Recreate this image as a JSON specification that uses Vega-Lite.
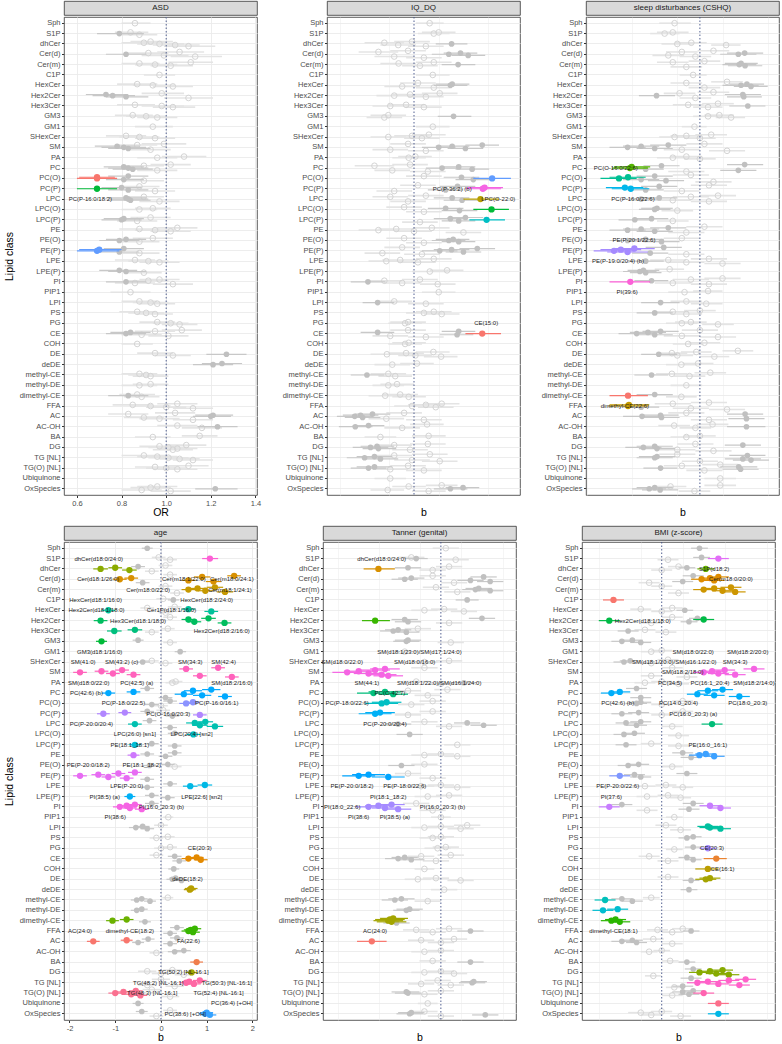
{
"$schema": "https://vega.github.io/schema/vega-lite/v6.json",
"background": "white",
"padding": {"left": 3, "top": 0, "right": 1, "bottom": 0},
"config": {
 "font": "Liberation Sans",
 "locale": {"number": {"decimal": ".", "thousands": ",", "grouping": [3], "currency": ["$", ""], "minus": "-"}},
 "view": {"stroke": "#333333", "strokeWidth": 0.8},
 "axis": {"labelFontSize": 7.5, "labelColor": "#4d4d4d", "titleFontSize": 10.5, "titleFontWeight": "normal", "titleColor": "#000000", "tickColor": "#333333", "tickSize": 2.5, "domain": false, "gridColor": "#ebebeb", "gridWidth": 0.9, "labelPadding": 1.5, "titlePadding": 1},
 "axisY": {"titlePadding": 5, "grid": true, "bandPosition": 0.5, "labelOverlap": false}
},
"datasets": {
"d": [
{"p":"A","c":"Sph","k":"o","b":[0.86],"l":[0.8],"h":[0.93]},
{"p":"A","c":"S1P","k":"g","b":[0.79],"l":[0.69],"h":[0.9]},
{"p":"A","c":"S1P","k":"o","b":[0.84,0.88],"l":[0.77,0.8],"h":[0.92,0.96]},
{"p":"A","c":"dhCer","k":"o","b":[0.97,0.9,1.04,0.93,1.1],"l":[0.87,0.8,0.94,0.84,0.99],"h":[1.08,1,1.15,1.03,1.22]},
{"p":"A","c":"Cer(d)","k":"g","b":[0.82],"l":[0.73],"h":[0.91]},
{"p":"A","c":"Cer(d)","k":"o","b":[0.92,0.99,1.06,1.13],"l":[0.83,0.89,0.96,1.02],"h":[1.01,1.1,1.17,1.25]},
{"p":"A","c":"Cer(m)","k":"o","b":[0.95,0.88,1.02,1.11],"l":[0.86,0.8,0.93,1.01],"h":[1.05,0.97,1.12,1.21]},
{"p":"A","c":"C1P","k":"o","b":[0.97],"l":[0.9],"h":[1.04]},
{"p":"A","c":"HexCer","k":"o","b":[0.94,0.87,1.03],"l":[0.85,0.78,0.94],"h":[1.04,0.96,1.12]},
{"p":"A","c":"Hex2Cer","k":"g","b":[0.76,0.73,0.82],"l":[0.67,0.64,0.73],"h":[0.86,0.83,0.92]},
{"p":"A","c":"Hex2Cer","k":"o","b":[0.98,1.1],"l":[0.89,0.99],"h":[1.08,1.21]},
{"p":"A","c":"Hex3Cer","k":"o","b":[0.98,0.86,1.03],"l":[0.89,0.78,0.94],"h":[1.08,0.95,1.13]},
{"p":"A","c":"GM3","k":"o","b":[0.91,0.85,0.96],"l":[0.82,0.77,0.87],"h":[1,0.94,1.05]},
{"p":"A","c":"GM1","k":"o","b":[0.94],"l":[0.86],"h":[1.03]},
{"p":"A","c":"SHexCer","k":"o","b":[0.88,0.82,0.95],"l":[0.79,0.73,0.86],"h":[0.97,0.91,1.04]},
{"p":"A","c":"SM","k":"g","b":[0.81,0.78,0.83],"l":[0.71,0.68,0.74],"h":[0.91,0.88,0.93]},
{"p":"A","c":"SM","k":"o","b":[0.87,0.93,0.99],"l":[0.78,0.84,0.89],"h":[0.96,1.02,1.09]},
{"p":"A","c":"PA","k":"o","b":[0.96,1.08],"l":[0.87,0.98],"h":[1.05,1.18]},
{"p":"A","c":"PC","k":"g","b":[0.83,0.81,0.85],"l":[0.74,0.72,0.76],"h":[0.92,0.9,0.94]},
{"p":"A","c":"PC","k":"o","b":[0.9,0.96,1.02],"l":[0.81,0.87,0.93],"h":[0.99,1.05,1.11]},
{"p":"A","c":"PC(O)","k":"s","b":[0.69,0.69],"l":[0.6,0.61],"h":[0.78,0.77]},
{"p":"A","c":"PC(O)","k":"g","b":[0.81,0.83],"l":[0.73,0.74],"h":[0.9,0.92]},
{"p":"A","c":"PC(O)","k":"o","b":[0.9],"l":[0.81],"h":[0.99]},
{"p":"A","c":"PC(P)","k":"s","b":[0.69],"l":[0.6],"h":[0.78]},
{"p":"A","c":"PC(P)","k":"g","b":[0.8,0.83],"l":[0.71,0.74],"h":[0.89,0.92]},
{"p":"A","c":"PC(P)","k":"o","b":[0.88,0.95],"l":[0.79,0.86],"h":[0.97,1.04]},
{"p":"A","c":"LPC","k":"g","b":[0.83,0.82,0.84],"l":[0.74,0.73,0.75],"h":[0.92,0.91,0.93]},
{"p":"A","c":"LPC","k":"o","b":[0.9,0.97],"l":[0.81,0.88],"h":[0.99,1.06]},
{"p":"A","c":"LPC(O)","k":"o","b":[0.88,0.94],"l":[0.8,0.86],"h":[0.96,1.02]},
{"p":"A","c":"LPC(P)","k":"g","b":[0.8,0.81],"l":[0.71,0.72],"h":[0.89,0.9]},
{"p":"A","c":"LPC(P)","k":"o","b":[0.87,0.93],"l":[0.78,0.84],"h":[0.96,1.02]},
{"p":"A","c":"PE","k":"o","b":[0.95,0.88,1.02,1.05],"l":[0.86,0.79,0.93,0.96],"h":[1.04,0.97,1.11,1.14]},
{"p":"A","c":"PE(O)","k":"g","b":[0.79,0.82],"l":[0.7,0.73],"h":[0.88,0.91]},
{"p":"A","c":"PE(O)","k":"o","b":[0.88,0.94],"l":[0.79,0.85],"h":[0.97,1.03]},
{"p":"A","c":"PE(P)","k":"s","b":[0.69,0.7],"l":[0.6,0.61],"h":[0.79,0.8]},
{"p":"A","c":"PE(P)","k":"g","b":[0.79,0.81],"l":[0.7,0.72],"h":[0.88,0.9]},
{"p":"A","c":"PE(P)","k":"o","b":[0.88],"l":[0.79],"h":[0.97]},
{"p":"A","c":"LPE","k":"o","b":[0.92,0.86,0.97],"l":[0.83,0.77,0.88],"h":[1.01,0.95,1.06]},
{"p":"A","c":"LPE(P)","k":"g","b":[0.82,0.79],"l":[0.74,0.7],"h":[0.91,0.87]},
{"p":"A","c":"LPE(P)","k":"o","b":[0.9],"l":[0.82],"h":[0.98]},
{"p":"A","c":"PI","k":"g","b":[0.82],"l":[0.73],"h":[0.91]},
{"p":"A","c":"PI","k":"o","b":[0.92,0.86,0.97,1.03],"l":[0.83,0.77,0.88,0.94],"h":[1.01,0.95,1.06,1.12]},
{"p":"A","c":"PIP1","k":"o","b":[0.84],"l":[0.75],"h":[0.93]},
{"p":"A","c":"LPI","k":"o","b":[0.93,0.88,0.96],"l":[0.85,0.8,0.88],"h":[1.01,0.96,1.04]},
{"p":"A","c":"PS","k":"o","b":[0.91,0.87,0.95],"l":[0.83,0.79,0.87],"h":[0.99,0.95,1.03]},
{"p":"A","c":"PG","k":"o","b":[1.02,0.96,1.06],"l":[0.94,0.88,0.98],"h":[1.1,1.04,1.14]},
{"p":"A","c":"CE","k":"g","b":[0.82,0.84],"l":[0.73,0.75],"h":[0.91,0.93]},
{"p":"A","c":"CE","k":"o","b":[0.89,0.95,1.01,1.07],"l":[0.8,0.86,0.92,0.98],"h":[0.98,1.04,1.1,1.16]},
{"p":"A","c":"COH","k":"o","b":[0.87],"l":[0.8],"h":[0.94]},
{"p":"A","c":"DE","k":"g","b":[1.27],"l":[1.18],"h":[1.36]},
{"p":"A","c":"DE","k":"o","b":[0.95,1.03],"l":[0.87,0.95],"h":[1.03,1.11]},
{"p":"A","c":"deDE","k":"g","b":[1.21,1.25],"l":[1.12,1.16],"h":[1.3,1.34]},
{"p":"A","c":"methyl-CE","k":"o","b":[0.91,0.88,0.93],"l":[0.83,0.8,0.85],"h":[0.99,0.96,1.01]},
{"p":"A","c":"methyl-DE","k":"o","b":[0.88,0.93],"l":[0.8,0.85],"h":[0.96,1.01]},
{"p":"A","c":"dimethyl-CE","k":"g","b":[0.83],"l":[0.74],"h":[0.92]},
{"p":"A","c":"dimethyl-CE","k":"o","b":[0.87,0.89],"l":[0.79,0.81],"h":[0.95,0.97]},
{"p":"A","c":"FFA","k":"o","b":[0.93,0.85,1,1.05,1.12],"l":[0.84,0.76,0.91,0.96,1.03],"h":[1.02,0.94,1.09,1.14,1.21]},
{"p":"A","c":"AC","k":"g","b":[1.2,1.21],"l":[1.12,1.13],"h":[1.29,1.3]},
{"p":"A","c":"AC","k":"o","b":[0.9,0.83,0.97,1.04,1.12],"l":[0.81,0.74,0.88,0.95,1.03],"h":[0.99,0.92,1.06,1.13,1.21]},
{"p":"A","c":"AC-OH","k":"g","b":[1.23],"l":[1.14],"h":[1.32]},
{"p":"A","c":"AC-OH","k":"o","b":[1.05,1.16],"l":[0.96,1.07],"h":[1.14,1.25]},
{"p":"A","c":"BA","k":"o","b":[0.94,1.15],"l":[0.86,1.07],"h":[1.02,1.23]},
{"p":"A","c":"DG","k":"o","b":[1.01,0.97,1.05,1.09,1.03],"l":[0.92,0.88,0.96,1,0.94],"h":[1.1,1.06,1.14,1.18,1.12]},
{"p":"A","c":"TG [NL]","k":"o","b":[1.01,0.96,1.06,0.9,1.12],"l":[0.92,0.87,0.97,0.8,1.03],"h":[1.1,1.05,1.15,1,1.21]},
{"p":"A","c":"TG(O) [NL]","k":"o","b":[1,0.95,1.05,1.1],"l":[0.91,0.86,0.96,1.01],"h":[1.09,1.04,1.14,1.19]},
{"p":"A","c":"OxSpecies","k":"g","b":[1.22],"l":[1.13],"h":[1.32]},
{"p":"A","c":"OxSpecies","k":"o","b":[0.93,0.89,0.96,1.02],"l":[0.84,0.8,0.87,0.93],"h":[1.02,0.98,1.05,1.11]},

{"p":"Q","c":"Sph","k":"o","b":[0.79],"l":[0.1],"h":[1.5]},
{"p":"Q","c":"S1P","k":"o","b":[1,1.25],"l":[0.2,0.4],"h":[1.8,2.1]},
{"p":"Q","c":"dhCer","k":"g","b":[1.9],"l":[1.1],"h":[2.7]},
{"p":"Q","c":"dhCer","k":"o","b":[-1.5,-0.8,-0.1,0.6],"l":[-2.5,-1.7,-1,-0.3],"h":[-0.5,0.1,0.8,1.5]},
{"p":"Q","c":"Cer(d)","k":"g","b":[1.76,2.35,2.74],"l":[0.9,1.5,1.9],"h":[2.6,3.2,3.6]},
{"p":"Q","c":"Cer(d)","k":"o","b":[-1.8,-1,-0.3,0.5],"l":[-2.8,-2,-1.2,-0.4],"h":[-0.8,0,0.6,1.4]},
{"p":"Q","c":"Cer(m)","k":"g","b":[2.23],"l":[1.4],"h":[3.1]},
{"p":"Q","c":"Cer(m)","k":"o","b":[-0.78,0.3,1],"l":[-1.7,-0.6,0.1],"h":[0.1,1.2,1.9]},
{"p":"Q","c":"C1P","k":"o","b":[0.95],"l":[0.1],"h":[1.8]},
{"p":"Q","c":"HexCer","k":"g","b":[1.84,1.93],"l":[1,1.1],"h":[2.7,2.8]},
{"p":"Q","c":"HexCer","k":"o","b":[-0.6,0.2,1],"l":[-1.5,-0.7,0.1],"h":[0.3,1.1,1.9]},
{"p":"Q","c":"Hex2Cer","k":"o","b":[-1,-0.2,0.6,1.3],"l":[-1.9,-1.1,-0.3,0.4],"h":[-0.1,0.7,1.5,2.2]},
{"p":"Q","c":"Hex3Cer","k":"o","b":[-1.2,-0.4,0.5],"l":[-2.1,-1.3,-0.4],"h":[-0.3,0.5,1.4]},
{"p":"Q","c":"GM3","k":"g","b":[2],"l":[1.2],"h":[2.9]},
{"p":"Q","c":"GM3","k":"o","b":[-1.3,-1.5],"l":[-2.2,-2.4],"h":[-0.4,-0.6]},
{"p":"Q","c":"GM1","k":"o","b":[0.95],"l":[0.1],"h":[1.8]},
{"p":"Q","c":"SHexCer","k":"o","b":[-1.3,-0.1,0.4,0.75],"l":[-2.2,-1,-0.5,-0.1],"h":[-0.4,0.8,1.3,1.6]},
{"p":"Q","c":"SM","k":"g","b":[1.25,1.93,2.6,3.45],"l":[0.4,1.1,1.7,2.6],"h":[2.1,2.8,3.5,4.3]},
{"p":"Q","c":"SM","k":"o","b":[-1.2,-0.3,0.6],"l":[-2.1,-1.2,-0.3],"h":[-0.3,0.6,1.5]},
{"p":"Q","c":"PA","k":"o","b":[-0.27,0.07],"l":[-1.1,-0.8],"h":[0.6,0.9]},
{"p":"Q","c":"PC","k":"g","b":[1.42,2.26,2.94],"l":[0.6,1.4,2.1],"h":[2.3,3.1,3.8]},
{"p":"Q","c":"PC","k":"o","b":[-2,-1.1,-0.2,0.7],"l":[-3,-2,-1.1,-0.2],"h":[-1,-0.2,0.7,1.6]},
{"p":"Q","c":"PC(O)","k":"s","b":[3.95],"l":[3],"h":[4.9]},
{"p":"Q","c":"PC(O)","k":"g","b":[2.4,3],"l":[1.5,2.1],"h":[3.3,3.9]},
{"p":"Q","c":"PC(O)","k":"o","b":[0.5],"l":[-0.4],"h":[1.4]},
{"p":"Q","c":"PC(P)","k":"s","b":[3.48,3.57],"l":[2.6,2.7],"h":[4.4,4.5]},
{"p":"Q","c":"PC(P)","k":"g","b":[1.6,2.2],"l":[0.7,1.3],"h":[2.5,3.1]},
{"p":"Q","c":"PC(P)","k":"o","b":[-1,0.2],"l":[-1.9,-0.7],"h":[-0.1,1.1]},
{"p":"Q","c":"LPC","k":"s","b":[3.36],"l":[2.5],"h":[4.3]},
{"p":"Q","c":"LPC","k":"g","b":[1.93,2.43],"l":[1,1.5],"h":[2.8,3.3]},
{"p":"Q","c":"LPC","k":"o","b":[-1.2,-0.3,0.6],"l":[-2.1,-1.2,-0.3],"h":[-0.3,0.6,1.5]},
{"p":"Q","c":"LPC(O)","k":"s","b":[3.92],"l":[3],"h":[4.8]},
{"p":"Q","c":"LPC(O)","k":"g","b":[1.6,2.3],"l":[0.7,1.4],"h":[2.5,3.2]},
{"p":"Q","c":"LPC(O)","k":"o","b":[-0.5,0.5],"l":[-1.4,-0.4],"h":[0.4,1.4]},
{"p":"Q","c":"LPC(P)","k":"s","b":[3.67],"l":[2.8],"h":[4.6]},
{"p":"Q","c":"LPC(P)","k":"g","b":[1.84,2.26,2.6],"l":[1,1.4,1.7],"h":[2.7,3.1,3.5]},
{"p":"Q","c":"LPC(P)","k":"o","b":[0.3],"l":[-0.6],"h":[1.2]},
{"p":"Q","c":"PE","k":"o","b":[-1.8,-0.9,0,0.9,2.5],"l":[-2.8,-1.8,-0.9,0,1.6],"h":[-0.8,0,0.9,1.8,3.4]},
{"p":"Q","c":"PE(O)","k":"g","b":[1.76,1.98,2.26],"l":[0.9,1.1,1.4],"h":[2.6,2.8,3.1]},
{"p":"Q","c":"PE(O)","k":"o","b":[-0.5,0.5],"l":[-1.4,-0.4],"h":[0.4,1.4]},
{"p":"Q","c":"PE(P)","k":"g","b":[1.3,1.9,2.5,3.2],"l":[0.4,1,1.6,2.3],"h":[2.2,2.8,3.4,4.1]},
{"p":"Q","c":"PE(P)","k":"o","b":[-1.6,-0.6,0.4],"l":[-2.5,-1.5,-0.5],"h":[-0.7,0.3,1.3]},
{"p":"Q","c":"LPE","k":"o","b":[-1.4,-0.7,0.2,1],"l":[-2.3,-1.6,-0.7,0.1],"h":[-0.5,0.2,1.1,1.9]},
{"p":"Q","c":"LPE(P)","k":"o","b":[0.8,1.67],"l":[-0.1,0.8],"h":[1.7,2.5]},
{"p":"Q","c":"PI","k":"g","b":[-2.33],"l":[-3.2],"h":[-1.45]},
{"p":"Q","c":"PI","k":"o","b":[-1.5,-0.6,0.3,1.2],"l":[-2.4,-1.5,-0.6,0.3],"h":[-0.6,0.3,1.2,2.1]},
{"p":"Q","c":"PIP1","k":"o","b":[1.25],"l":[0.4],"h":[2.1]},
{"p":"Q","c":"LPI","k":"g","b":[-1.84],"l":[-2.6],"h":[-1]},
{"p":"Q","c":"LPI","k":"o","b":[-1,0.6],"l":[-1.9,-0.3],"h":[-0.1,1.5]},
{"p":"Q","c":"PS","k":"o","b":[0.5,1,1.4],"l":[-0.4,0.1,0.5],"h":[1.4,1.9,2.3]},
{"p":"Q","c":"PG","k":"o","b":[-0.45,-0.3],"l":[-1.3,-1.2],"h":[0.4,0.6]},
{"p":"Q","c":"CE","k":"s","b":[3.45],"l":[2.6],"h":[4.4]},
{"p":"Q","c":"CE","k":"g","b":[-1.84,2.18,2.26],"l":[-2.7,1.3,1.4],"h":[-1,3,3.1]},
{"p":"Q","c":"CE","k":"o","b":[-1.2,-0.3,0.6],"l":[-2.1,-1.2,-0.3],"h":[-0.3,0.6,1.5]},
{"p":"Q","c":"COH","k":"o","b":[-0.45,-0.27],"l":[-1.3,-1.1],"h":[0.4,0.6]},
{"p":"Q","c":"DE","k":"o","b":[-1.37,-0.4,0.07,0.98,1.37],"l":[-2.2,-1.3,-0.8,0.1,0.5],"h":[-0.5,0.5,0.9,1.8,2.2]},
{"p":"Q","c":"deDE","k":"o","b":[-1.1,0.15],"l":[-2,-0.7],"h":[-0.2,1]},
{"p":"Q","c":"methyl-CE","k":"g","b":[-2.38],"l":[-3.2],"h":[-1.5]},
{"p":"Q","c":"methyl-CE","k":"o","b":[-1.3,-0.95],"l":[-2.2,-1.8],"h":[-0.4,-0.1]},
{"p":"Q","c":"methyl-DE","k":"o","b":[-1.3,-0.86],"l":[-2.1,-1.7],"h":[-0.5,0]},
{"p":"Q","c":"dimethyl-CE","k":"o","b":[-1.46,-0.7,-0.27],"l":[-2.3,-1.6,-1.1],"h":[-0.6,0.2,0.6]},
{"p":"Q","c":"FFA","k":"o","b":[-0.1,0.6,1.1,1.4],"l":[-1,-0.3,0.2,0.5],"h":[0.8,1.5,2,2.3]},
{"p":"Q","c":"AC","k":"g","b":[-3,-2.7,-2.6,-2.1],"l":[-3.9,-3.6,-3.5,-3],"h":[-2.1,-1.8,-1.7,-1.2]},
{"p":"Q","c":"AC","k":"o","b":[-1.4,-0.5,0.5],"l":[-2.3,-1.4,-0.4],"h":[-0.5,0.4,1.4]},
{"p":"Q","c":"AC-OH","k":"g","b":[-2.97,-2.3],"l":[-3.8,-3.1],"h":[-2.1,-1.5]},
{"p":"Q","c":"AC-OH","k":"o","b":[-0.6,0.66],"l":[-1.5,-0.2],"h":[0.3,1.5]},
{"p":"Q","c":"BA","k":"o","b":[-1.7,0.74],"l":[-2.5,-0.1],"h":[-0.9,1.6]},
{"p":"Q","c":"DG","k":"g","b":[-2.2,-1.87,-1.8],"l":[-3.1,-2.7,-2.6],"h":[-1.3,-1,-0.9]},
{"p":"Q","c":"DG","k":"o","b":[-1,-0.2,0.7],"l":[-1.9,-1.1,-0.2],"h":[-0.1,0.7,1.6]},
{"p":"Q","c":"TG [NL]","k":"g","b":[-2.5,-2,-1.7],"l":[-3.4,-2.9,-2.6],"h":[-1.6,-1.1,-0.8]},
{"p":"Q","c":"TG [NL]","k":"o","b":[-1,-0.1,0.8,1.3],"l":[-1.9,-1,-0.1,0.4],"h":[-0.1,0.8,1.7,2.2]},
{"p":"Q","c":"TG(O) [NL]","k":"g","b":[-2.3,-2],"l":[-3.2,-2.9],"h":[-1.4,-1.1]},
{"p":"Q","c":"TG(O) [NL]","k":"o","b":[-1.2,-0.3,0.5],"l":[-2.1,-1.2,-0.4],"h":[-0.3,0.6,1.4]},
{"p":"Q","c":"Ubiquinone","k":"o","b":[-1.2],"l":[-2],"h":[-0.4]},
{"p":"Q","c":"OxSpecies","k":"g","b":[1.84,2.48],"l":[1,1.6],"h":[2.7,3.3]},
{"p":"Q","c":"OxSpecies","k":"o","b":[-1.33,-0.27,0.74,1.4],"l":[-2.2,-1.1,-0.1,0.6],"h":[-0.5,0.6,1.6,2.2]},

{"p":"S","c":"Sph","k":"o","b":[-0.56],"l":[-0.9],"h":[-0.2]},
{"p":"S","c":"S1P","k":"o","b":[-0.78,-0.6],"l":[-1.1,-0.95],"h":[-0.45,-0.25]},
{"p":"S","c":"dhCer","k":"o","b":[-0.5,-0.19,0.58],"l":[-0.85,-0.55,0.25],"h":[-0.15,0.15,0.9]},
{"p":"S","c":"Cer(d)","k":"g","b":[0.85,0.99],"l":[0.45,0.6],"h":[1.25,1.4]},
{"p":"S","c":"Cer(d)","k":"o","b":[-0.7,-0.4,-0.1,0.3],"l":[-1.05,-0.75,-0.45,-0.05],"h":[-0.35,-0.05,0.25,0.65]},
{"p":"S","c":"Cer(m)","k":"g","b":[0.87,0.91,1],"l":[0.5,0.55,0.62],"h":[1.25,1.28,1.38]},
{"p":"S","c":"Cer(m)","k":"o","b":[-0.6,-0.3,0.1],"l":[-0.95,-0.65,-0.25],"h":[-0.25,0.05,0.45]},
{"p":"S","c":"C1P","k":"o","b":[-0.15],"l":[-0.45],"h":[0.15]},
{"p":"S","c":"HexCer","k":"g","b":[0.91,1.04,1.13],"l":[0.5,0.65,0.75],"h":[1.3,1.42,1.5]},
{"p":"S","c":"HexCer","k":"o","b":[-0.3,0.1,0.6],"l":[-0.65,-0.25,0.25],"h":[0.05,0.45,0.95]},
{"p":"S","c":"Hex2Cer","k":"g","b":[-0.96,0.95,0.97],"l":[-1.35,0.55,0.6],"h":[-0.55,1.35,1.37]},
{"p":"S","c":"Hex2Cer","k":"o","b":[-0.45,-0.1,0.3],"l":[-0.8,-0.45,-0.05],"h":[-0.1,0.25,0.65]},
{"p":"S","c":"Hex3Cer","k":"g","b":[1.06],"l":[0.65],"h":[1.45]},
{"p":"S","c":"Hex3Cer","k":"o","b":[-0.26,0.18,0.4],"l":[-0.6,-0.15,0.05],"h":[0.08,0.5,0.75]},
{"p":"S","c":"GM3","k":"o","b":[0.18,0.43,0.69],"l":[-0.15,0.1,0.35],"h":[0.5,0.75,1]},
{"p":"S","c":"GM1","k":"o","b":[-0.12],"l":[-0.4],"h":[0.15]},
{"p":"S","c":"SHexCer","k":"o","b":[-0.56,-0.3,0,0.25],"l":[-0.9,-0.65,-0.35,-0.1],"h":[-0.22,0.05,0.35,0.6]},
{"p":"S","c":"SM","k":"g","b":[-1.6,-1.3,-1,-0.7],"l":[-2,-1.7,-1.4,-1.1],"h":[-1.2,-0.9,-0.6,-0.3]},
{"p":"S","c":"SM","k":"o","b":[-0.4,0.1,0.6],"l":[-0.8,-0.3,0.2],"h":[0,0.5,1]},
{"p":"S","c":"PA","k":"o","b":[-0.6,-0.3,0],"l":[-0.95,-0.65,-0.35],"h":[-0.25,0.05,0.35]},
{"p":"S","c":"PC","k":"s","b":[-1.55,-1.51],"l":[-1.95,-1.9],"h":[-1.15,-1.1]},
{"p":"S","c":"PC","k":"g","b":[-1.2,-0.85,0.85,0.99],"l":[-1.6,-1.25,0.45,0.6],"h":[-0.8,-0.45,1.25,1.4]},
{"p":"S","c":"PC","k":"o","b":[-0.3],"l":[-0.7],"h":[0.1]},
{"p":"S","c":"PC(O)","k":"s","b":[-1.79,-1.59],"l":[-2.2,-2],"h":[-1.4,-1.2]},
{"p":"S","c":"PC(O)","k":"g","b":[-1.3,-1,-0.75],"l":[-1.7,-1.4,-1.15],"h":[-0.9,-0.6,-0.35]},
{"p":"S","c":"PC(O)","k":"o","b":[-0.2,0.3],"l":[-0.6,-0.1],"h":[0.2,0.7]},
{"p":"S","c":"PC(P)","k":"s","b":[-1.53,-1.66],"l":[-1.95,-2.08],"h":[-1.12,-1.25]},
{"p":"S","c":"PC(P)","k":"g","b":[-1.2,-0.9],"l":[-1.6,-1.3],"h":[-0.8,-0.5]},
{"p":"S","c":"PC(P)","k":"o","b":[-0.4,0.2],"l":[-0.8,-0.2],"h":[0,0.6]},
{"p":"S","c":"LPC","k":"g","b":[-1.3,-0.9],"l":[-1.7,-1.3],"h":[-0.9,-0.5]},
{"p":"S","c":"LPC","k":"o","b":[-0.6,-0.2,0.2,0.4],"l":[-1,-0.6,-0.2,0],"h":[-0.2,0.2,0.6,0.8]},
{"p":"S","c":"LPC(O)","k":"g","b":[-1,-0.95],"l":[-1.35,-1.3],"h":[-0.65,-0.6]},
{"p":"S","c":"LPC(O)","k":"o","b":[-0.5],"l":[-0.85],"h":[-0.15]},
{"p":"S","c":"LPC(P)","k":"g","b":[-1.44,-1.07],"l":[-1.8,-1.45],"h":[-1.08,-0.7]},
{"p":"S","c":"LPC(P)","k":"o","b":[-0.6],"l":[-0.95],"h":[-0.25]},
{"p":"S","c":"PE","k":"g","b":[-1.6,-1.3,-1,-0.7],"l":[-2,-1.7,-1.4,-1.1],"h":[-1.2,-0.9,-0.6,-0.3]},
{"p":"S","c":"PE","k":"o","b":[-0.3,0.1],"l":[-0.7,-0.3],"h":[0.1,0.5]},
{"p":"S","c":"PE(O)","k":"g","b":[-1.6,-1.2,-0.85],"l":[-2,-1.6,-1.25],"h":[-1.2,-0.8,-0.45]},
{"p":"S","c":"PE(O)","k":"o","b":[-0.4],"l":[-0.8],"h":[0]},
{"p":"S","c":"PE(P)","k":"s","b":[-1.9,-1.75,-1.6,-1.45],"l":[-2.35,-2.2,-2.05,-1.9],"h":[-1.45,-1.3,-1.15,-1]},
{"p":"S","c":"PE(P)","k":"g","b":[-1.1,-0.8],"l":[-1.5,-1.2],"h":[-0.7,-0.4]},
{"p":"S","c":"PE(P)","k":"o","b":[-0.3],"l":[-0.7],"h":[0.1]},
{"p":"S","c":"LPE","k":"g","b":[-1.2],"l":[-1.6],"h":[-0.8]},
{"p":"S","c":"LPE","k":"o","b":[-0.7,-0.3,0.2,0.5],"l":[-1.1,-0.7,-0.2,0.1],"h":[-0.3,0.1,0.6,0.9]},
{"p":"S","c":"LPE(P)","k":"g","b":[-1.33,-1.25,-1.2],"l":[-1.7,-1.6,-1.55],"h":[-0.96,-0.9,-0.85]},
{"p":"S","c":"LPE(P)","k":"o","b":[-0.67],"l":[-1],"h":[-0.35]},
{"p":"S","c":"PI","k":"s","b":[-1.54],"l":[-2],"h":[-1.1]},
{"p":"S","c":"PI","k":"g","b":[-1.07],"l":[-1.45],"h":[-0.7]},
{"p":"S","c":"PI","k":"o","b":[-0.6,-0.2,0.2,0.5],"l":[-1,-0.6,-0.2,0.1],"h":[-0.2,0.2,0.6,0.9]},
{"p":"S","c":"PIP1","k":"o","b":[-0.34,0.18],"l":[-0.7,-0.15],"h":[0,0.5]},
{"p":"S","c":"LPI","k":"g","b":[-0.87],"l":[-1.3],"h":[-0.45]},
{"p":"S","c":"LPI","k":"o","b":[-0.3,0.14],"l":[-0.65,-0.2],"h":[0.05,0.5]},
{"p":"S","c":"PS","k":"g","b":[-1],"l":[-1.4],"h":[-0.6]},
{"p":"S","c":"PS","k":"o","b":[-0.6,-0.3,0],"l":[-0.95,-0.65,-0.35],"h":[-0.25,0.05,0.35]},
{"p":"S","c":"PG","k":"o","b":[-0.4,-0.2,0.4],"l":[-0.75,-0.55,0.05],"h":[-0.05,0.15,0.75]},
{"p":"S","c":"CE","k":"g","b":[-1.4,-1.15,-1,-0.87],"l":[-1.8,-1.55,-1.4,-1.27],"h":[-1,-0.75,-0.6,-0.47]},
{"p":"S","c":"CE","k":"o","b":[-0.4,0,0.4],"l":[-0.8,-0.4,0],"h":[0,0.4,0.8]},
{"p":"S","c":"COH","k":"o","b":[-0.26,0.1],"l":[-0.6,-0.25],"h":[0.08,0.45]},
{"p":"S","c":"DE","k":"g","b":[-0.91],"l":[-1.3],"h":[-0.5]},
{"p":"S","c":"DE","k":"o","b":[-0.62,-0.5,-0.08,0.32,0.84],"l":[-0.95,-0.85,-0.42,0,0.5],"h":[-0.28,-0.15,0.26,0.65,1.18]},
{"p":"S","c":"deDE","k":"o","b":[-0.41,-0.04],"l":[-0.75,-0.38],"h":[-0.07,0.3]},
{"p":"S","c":"methyl-CE","k":"g","b":[-1.07],"l":[-1.45],"h":[-0.7]},
{"p":"S","c":"methyl-CE","k":"o","b":[-0.62,-0.23,0.23],"l":[-0.97,-0.58,-0.12],"h":[-0.28,0.12,0.58]},
{"p":"S","c":"methyl-DE","k":"o","b":[-0.3],"l":[-0.65],"h":[0.05]},
{"p":"S","c":"dimethyl-CE","k":"s","b":[-1.59],"l":[-2],"h":[-1.15]},
{"p":"S","c":"dimethyl-CE","k":"g","b":[-1],"l":[-1.4],"h":[-0.6]},
{"p":"S","c":"dimethyl-CE","k":"o","b":[-0.41],"l":[-0.75],"h":[-0.07]},
{"p":"S","c":"FFA","k":"s","b":[-1.59,-1.57],"l":[-2.03,-2],"h":[-1.15,-1.12]},
{"p":"S","c":"FFA","k":"g","b":[-1.3],"l":[-1.7],"h":[-0.9]},
{"p":"S","c":"FFA","k":"o","b":[-0.6,-0.2,0.2,0.6],"l":[-1,-0.6,-0.2,0.2],"h":[-0.2,0.2,0.6,1]},
{"p":"S","c":"AC","k":"g","b":[-1.28,-0.87,-0.85,1,1.03],"l":[-1.7,-1.27,-1.25,0.6,0.63],"h":[-0.88,-0.47,-0.45,1.4,1.43]},
{"p":"S","c":"AC","k":"o","b":[-0.3,0.2],"l":[-0.7,-0.2],"h":[0.1,0.6]},
{"p":"S","c":"AC-OH","k":"g","b":[1.03],"l":[0.6],"h":[1.45]},
{"p":"S","c":"AC-OH","k":"o","b":[-0.57,-0.1,0.28],"l":[-0.92,-0.45,-0.07],"h":[-0.22,0.25,0.63]},
{"p":"S","c":"BA","k":"o","b":[-0.3,0],"l":[-0.65,-0.35],"h":[0.05,0.35]},
{"p":"S","c":"DG","k":"g","b":[-1.25,-1,-0.95,0.95],"l":[-1.65,-1.4,-1.35,0.55],"h":[-0.85,-0.6,-0.55,1.35]},
{"p":"S","c":"DG","k":"o","b":[-0.5,-0.1,0.3],"l":[-0.9,-0.5,-0.1],"h":[-0.1,0.3,0.7]},
{"p":"S","c":"TG [NL]","k":"g","b":[-1,-0.95,0.95,1.05,1.13],"l":[-1.4,-1.35,0.55,0.65,0.73],"h":[-0.6,-0.55,1.35,1.45,1.53]},
{"p":"S","c":"TG [NL]","k":"o","b":[-0.5,0],"l":[-0.9,-0.4],"h":[-0.1,0.4]},
{"p":"S","c":"TG(O) [NL]","k":"g","b":[-0.87,0.86,0.9],"l":[-1.25,0.45,0.5],"h":[-0.5,1.27,1.3]},
{"p":"S","c":"TG(O) [NL]","k":"o","b":[-0.4,0.1,0.45],"l":[-0.8,-0.3,0.05],"h":[0,0.5,0.85]},
{"p":"S","c":"Ubiquinone","k":"o","b":[0.45],"l":[0.1],"h":[0.8]},
{"p":"S","c":"OxSpecies","k":"g","b":[-1.12,-1,-0.88],"l":[-1.5,-1.4,-1.28],"h":[-0.75,-0.6,-0.48]},
{"p":"S","c":"OxSpecies","k":"o","b":[-0.65,-0.12,0.45],"l":[-1,-0.47,0.1],"h":[-0.3,0.23,0.8]},

{"p":"G","c":"Sph","k":"g","b":[-0.3],"l":[-0.42],"h":[-0.18]},
{"p":"G","c":"S1P","k":"s","b":[1.07],"l":[0.9],"h":[1.25]},
{"p":"G","c":"S1P","k":"o","b":[-0.05,0.2],"l":[-0.2,0.05],"h":[0.1,0.35]},
{"p":"G","c":"dhCer","k":"s","b":[-1.32,-1,-0.69],"l":[-1.48,-1.15,-0.85],"h":[-1.16,-0.85,-0.53]},
{"p":"G","c":"dhCer","k":"g","b":[-0.5],"l":[-0.65],"h":[-0.35]},
{"p":"G","c":"dhCer","k":"o","b":[-0.2,0.1],"l":[-0.35,-0.05],"h":[-0.05,0.25]},
{"p":"G","c":"Cer(d)","k":"s","b":[-0.9,-0.65,0.6,0.9,1.15,1.6],"l":[-1.05,-0.8,0.45,0.72,0.98,1.45],"h":[-0.75,-0.5,0.75,1.08,1.32,1.75]},
{"p":"G","c":"Cer(d)","k":"g","b":[-0.4],"l":[-0.55],"h":[-0.25]},
{"p":"G","c":"Cer(d)","k":"o","b":[0.2],"l":[0.05],"h":[0.35]},
{"p":"G","c":"Cer(m)","k":"s","b":[0.6,0.8,0.97,1.18,1.4],"l":[0.45,0.63,0.8,1,1.22],"h":[0.75,0.97,1.14,1.36,1.58]},
{"p":"G","c":"Cer(m)","k":"o","b":[0.1,0.35],"l":[-0.05,0.2],"h":[0.25,0.5]},
{"p":"G","c":"C1P","k":"g","b":[0.27],"l":[0.15],"h":[0.4]},
{"p":"G","c":"C1P","k":"o","b":[0.05],"l":[-0.1],"h":[0.2]},
{"p":"G","c":"HexCer","k":"s","b":[-1.15,0.6,1.1],"l":[-1.3,0.45,0.95],"h":[-1,0.75,1.25]},
{"p":"G","c":"HexCer","k":"o","b":[-0.3,0.1,0.3],"l":[-0.45,-0.05,0.15],"h":[-0.15,0.25,0.45]},
{"p":"G","c":"Hex2Cer","k":"s","b":[-1.32,0.6,0.73,1.04,1.39],"l":[-1.47,0.45,0.58,0.88,1.24],"h":[-1.17,0.75,0.88,1.2,1.54]},
{"p":"G","c":"Hex2Cer","k":"o","b":[0.2],"l":[0.05],"h":[0.35]},
{"p":"G","c":"Hex3Cer","k":"s","b":[-1.02,-0.57],"l":[-1.18,-0.73],"h":[-0.86,-0.41]},
{"p":"G","c":"Hex3Cer","k":"o","b":[-0.2,0.15],"l":[-0.35,0],"h":[-0.05,0.3]},
{"p":"G","c":"GM3","k":"s","b":[-1.3],"l":[-1.42],"h":[-1.18]},
{"p":"G","c":"GM3","k":"g","b":[-0.5],"l":[-0.62],"h":[-0.38]},
{"p":"G","c":"GM3","k":"o","b":[0.2],"l":[0.05],"h":[0.35]},
{"p":"G","c":"GM1","k":"g","b":[0.42],"l":[0.3],"h":[0.55]},
{"p":"G","c":"SHexCer","k":"g","b":[-0.4],"l":[-0.55],"h":[-0.25]},
{"p":"G","c":"SHexCer","k":"o","b":[-0.2,0.1],"l":[-0.35,-0.05],"h":[-0.05,0.25]},
{"p":"G","c":"SM","k":"s","b":[-1.77,-1.3,-1.05,-0.85,-0.6,0.55,0.85,1.25,1.55],"l":[-1.92,-1.45,-1.2,-1,-0.75,0.4,0.7,1.1,1.4],"h":[-1.62,-1.15,-0.9,-0.7,-0.45,0.7,1,1.4,1.7]},
{"p":"G","c":"PA","k":"o","b":[0.25,0.32],"l":[0.1,0.17],"h":[0.4,0.47]},
{"p":"G","c":"PC","k":"s","b":[-1.15,-0.6,0.5,0.7,0.9,1.1,1.4],"l":[-1.3,-0.75,0.3,0.5,0.7,0.9,1.25],"h":[-1,-0.45,0.7,0.9,1.1,1.3,1.55]},
{"p":"G","c":"PC","k":"g","b":[-0.3,0.1],"l":[-0.45,-0.05],"h":[-0.15,0.25]},
{"p":"G","c":"PC(O)","k":"s","b":[0.55,0.7],"l":[0.4,0.55],"h":[0.7,0.85]},
{"p":"G","c":"PC(O)","k":"g","b":[-0.2,0.2],"l":[-0.35,0.05],"h":[-0.05,0.35]},
{"p":"G","c":"PC(O)","k":"o","b":[0],"l":[-0.15],"h":[0.15]},
{"p":"G","c":"PC(P)","k":"s","b":[-1.26,-0.79,0.85],"l":[-1.4,-0.93,0.7],"h":[-1.12,-0.65,1]},
{"p":"G","c":"PC(P)","k":"g","b":[-0.3,0.25],"l":[-0.45,0.1],"h":[-0.15,0.4]},
{"p":"G","c":"PC(P)","k":"o","b":[0.05],"l":[-0.1],"h":[0.2]},
{"p":"G","c":"LPC","k":"s","b":[-0.57,0.74,0.85,0.97,1.18],"l":[-0.72,0.55,0.68,0.8,1],"h":[-0.42,0.93,1.02,1.14,1.36]},
{"p":"G","c":"LPC","k":"g","b":[-0.25,0.2],"l":[-0.4,0.05],"h":[-0.1,0.35]},
{"p":"G","c":"LPC(O)","k":"s","b":[0.71],"l":[0.56],"h":[0.86]},
{"p":"G","c":"LPC(O)","k":"g","b":[0.3],"l":[0.15],"h":[0.45]},
{"p":"G","c":"LPC(P)","k":"s","b":[-0.57],"l":[-0.7],"h":[-0.44]},
{"p":"G","c":"LPC(P)","k":"g","b":[-0.2,0.3],"l":[-0.35,0.15],"h":[-0.05,0.45]},
{"p":"G","c":"PE","k":"s","b":[-0.6],"l":[-0.73],"h":[-0.47]},
{"p":"G","c":"PE","k":"g","b":[-0.3,0.1,0.3],"l":[-0.45,-0.05,0.15],"h":[-0.15,0.25,0.45]},
{"p":"G","c":"PE(O)","k":"g","b":[-0.25,0.15],"l":[-0.4,0],"h":[-0.1,0.3]},
{"p":"G","c":"PE(O)","k":"o","b":[0.3],"l":[0.15],"h":[0.45]},
{"p":"G","c":"PE(P)","k":"s","b":[-1.77,-1.37,-1.15,-0.93,-0.75,-0.57],"l":[-1.92,-1.52,-1.3,-1.08,-0.9,-0.72],"h":[-1.62,-1.22,-1,-0.78,-0.6,-0.42]},
{"p":"G","c":"PE(P)","k":"g","b":[-0.3],"l":[-0.45],"h":[-0.15]},
{"p":"G","c":"LPE","k":"s","b":[0.64,0.96],"l":[0.48,0.8],"h":[0.8,1.12]},
{"p":"G","c":"LPE","k":"g","b":[-0.3,0.2],"l":[-0.45,0.05],"h":[-0.15,0.35]},
{"p":"G","c":"LPE(P)","k":"s","b":[-0.68],"l":[-0.8],"h":[-0.56]},
{"p":"G","c":"LPE(P)","k":"g","b":[-0.2,0.15],"l":[-0.35,0],"h":[-0.05,0.3]},
{"p":"G","c":"PI","k":"s","b":[-0.9,-0.75,-0.68,-0.57,-0.42],"l":[-1.05,-0.9,-0.83,-0.72,-0.57],"h":[-0.75,-0.6,-0.53,-0.42,-0.27]},
{"p":"G","c":"PI","k":"g","b":[-0.2],"l":[-0.35],"h":[-0.05]},
{"p":"G","c":"PIP1","k":"o","b":[0.16],"l":[0.05],"h":[0.27]},
{"p":"G","c":"LPI","k":"g","b":[-0.55,-0.4,-0.3],"l":[-0.7,-0.55,-0.45],"h":[-0.4,-0.25,-0.15]},
{"p":"G","c":"LPI","k":"o","b":[0],"l":[-0.15],"h":[0.15]},
{"p":"G","c":"PS","k":"o","b":[-0.1,0.15],"l":[-0.25,0],"h":[0.05,0.3]},
{"p":"G","c":"PG","k":"o","b":[0,0.2],"l":[-0.15,0.05],"h":[0.15,0.35]},
{"p":"G","c":"CE","k":"s","b":[0.6,0.78,0.87],"l":[0.45,0.63,0.72],"h":[0.75,0.93,1.02]},
{"p":"G","c":"CE","k":"g","b":[0.3,0.4],"l":[0.15,0.25],"h":[0.45,0.55]},
{"p":"G","c":"CE","k":"o","b":[-0.1],"l":[-0.25],"h":[0.05]},
{"p":"G","c":"COH","k":"g","b":[0.28],"l":[0.16],"h":[0.4]},
{"p":"G","c":"DE","k":"g","b":[0.25,0.32,0.45],"l":[0.12,0.18,0.3],"h":[0.38,0.46,0.6]},
{"p":"G","c":"deDE","k":"s","b":[0.63,0.66],"l":[0.5,0.52],"h":[0.76,0.8]},
{"p":"G","c":"methyl-CE","k":"g","b":[-0.53,-0.42,-0.24],"l":[-0.66,-0.55,-0.37],"h":[-0.4,-0.29,-0.11]},
{"p":"G","c":"methyl-CE","k":"o","b":[0.15],"l":[0.03],"h":[0.27]},
{"p":"G","c":"methyl-DE","k":"g","b":[-0.53,-0.42],"l":[-0.66,-0.55],"h":[-0.4,-0.29]},
{"p":"G","c":"dimethyl-CE","k":"s","b":[-1.06,-0.75],"l":[-1.2,-0.9],"h":[-0.92,-0.6]},
{"p":"G","c":"dimethyl-CE","k":"g","b":[-0.35],"l":[-0.48],"h":[-0.22]},
{"p":"G","c":"FFA","k":"s","b":[0.6,0.65,0.7,0.74],"l":[0.45,0.5,0.55,0.6],"h":[0.75,0.8,0.85,0.88]},
{"p":"G","c":"FFA","k":"g","b":[0.2,0.35],"l":[0.05,0.2],"h":[0.35,0.5]},
{"p":"G","c":"AC","k":"s","b":[-1.48,-0.75],"l":[-1.62,-0.88],"h":[-1.34,-0.62]},
{"p":"G","c":"AC","k":"g","b":[-0.5,-0.28,0.2,0.35],"l":[-0.63,-0.42,0.05,0.2],"h":[-0.37,-0.14,0.35,0.5]},
{"p":"G","c":"AC-OH","k":"g","b":[0.3,0.5],"l":[0.15,0.35],"h":[0.45,0.65]},
{"p":"G","c":"AC-OH","k":"o","b":[-0.1],"l":[-0.25],"h":[0.05]},
{"p":"G","c":"BA","k":"s","b":[0.78],"l":[0.64],"h":[0.92]},
{"p":"G","c":"DG","k":"s","b":[0.67],"l":[0.54],"h":[0.8]},
{"p":"G","c":"DG","k":"o","b":[-0.3,0,0.25,0.5],"l":[-0.5,-0.2,0.05,0.3],"h":[-0.1,0.2,0.45,0.7]},
{"p":"G","c":"TG [NL]","k":"s","b":[0.55,0.62,0.72,0.85],"l":[0.4,0.47,0.57,0.7],"h":[0.7,0.77,0.87,1]},
{"p":"G","c":"TG [NL]","k":"o","b":[-0.3,0,0.3],"l":[-0.5,-0.2,0.1],"h":[-0.1,0.2,0.5]},
{"p":"G","c":"TG(O) [NL]","k":"s","b":[-1,-0.82,-0.65,-0.55,-0.45],"l":[-1.15,-0.97,-0.8,-0.7,-0.6],"h":[-0.85,-0.67,-0.5,-0.4,-0.3]},
{"p":"G","c":"TG(O) [NL]","k":"o","b":[-0.2,0.2],"l":[-0.4,0],"h":[0,0.4]},
{"p":"G","c":"Ubiquinone","k":"g","b":[-0.5],"l":[-0.62],"h":[-0.38]},
{"p":"G","c":"OxSpecies","k":"s","b":[0.96,1,1.07],"l":[0.82,0.86,0.93],"h":[1.1,1.14,1.21]},
{"p":"G","c":"OxSpecies","k":"g","b":[-0.42],"l":[-0.55],"h":[-0.29]},
{"p":"G","c":"OxSpecies","k":"o","b":[-0.1,0.2],"l":[-0.25,0.05],"h":[0.05,0.35]},

{"p":"T","c":"Sph","k":"o","b":[0.03],"l":[-0.05],"h":[0.11]},
{"p":"T","c":"S1P","k":"g","b":[-0.15],"l":[-0.22],"h":[-0.08]},
{"p":"T","c":"S1P","k":"o","b":[-0.18,0.09],"l":[-0.26,0.01],"h":[-0.1,0.17]},
{"p":"T","c":"dhCer","k":"s","b":[-0.38],"l":[-0.47],"h":[-0.28]},
{"p":"T","c":"dhCer","k":"g","b":[-0.2],"l":[-0.28],"h":[-0.12]},
{"p":"T","c":"dhCer","k":"o","b":[-0.05,0.05],"l":[-0.13,-0.03],"h":[0.03,0.13]},
{"p":"T","c":"Cer(d)","k":"g","b":[-0.22,-0.18,0.18,0.26,0.3],"l":[-0.3,-0.26,0.1,0.18,0.22],"h":[-0.14,-0.1,0.26,0.34,0.38]},
{"p":"T","c":"Cer(d)","k":"o","b":[-0.05,0.08],"l":[-0.13,0],"h":[0.03,0.16]},
{"p":"T","c":"Cer(m)","k":"g","b":[0.21,0.23,0.3],"l":[0.13,0.15,0.22],"h":[0.29,0.31,0.38]},
{"p":"T","c":"Cer(m)","k":"o","b":[-0.03,0.1],"l":[-0.11,0.02],"h":[0.05,0.18]},
{"p":"T","c":"C1P","k":"g","b":[0.16],"l":[0.09],"h":[0.23]},
{"p":"T","c":"HexCer","k":"o","b":[-0.1,0.02,0.14],"l":[-0.18,-0.06,0.06],"h":[-0.02,0.1,0.22]},
{"p":"T","c":"Hex2Cer","k":"s","b":[-0.4],"l":[-0.48],"h":[-0.31]},
{"p":"T","c":"Hex2Cer","k":"g","b":[-0.22,-0.2,0.25],"l":[-0.3,-0.28,0.17],"h":[-0.14,-0.12,0.33]},
{"p":"T","c":"Hex2Cer","k":"o","b":[0.05],"l":[-0.03],"h":[0.13]},
{"p":"T","c":"Hex3Cer","k":"g","b":[-0.29,-0.26,-0.21],"l":[-0.37,-0.34,-0.29],"h":[-0.21,-0.18,-0.13]},
{"p":"T","c":"Hex3Cer","k":"o","b":[-0.14],"l":[-0.22],"h":[-0.06]},
{"p":"T","c":"GM3","k":"g","b":[-0.21,-0.2],"l":[-0.29,-0.28],"h":[-0.13,-0.12]},
{"p":"T","c":"GM3","k":"o","b":[0.06],"l":[-0.02],"h":[0.14]},
{"p":"T","c":"GM1","k":"o","b":[-0.22],"l":[-0.3],"h":[-0.14]},
{"p":"T","c":"SHexCer","k":"o","b":[-0.1,0.05],"l":[-0.18,-0.03],"h":[-0.02,0.13]},
{"p":"T","c":"SM","k":"s","b":[-0.57,-0.5,-0.44,-0.4,-0.36,-0.34,-0.32],"l":[-0.66,-0.59,-0.53,-0.49,-0.45,-0.43,-0.41],"h":[-0.48,-0.41,-0.35,-0.31,-0.27,-0.25,-0.23]},
{"p":"T","c":"SM","k":"o","b":[-0.1],"l":[-0.18],"h":[-0.02]},
{"p":"T","c":"PA","k":"g","b":[0.14],"l":[0.06],"h":[0.22]},
{"p":"T","c":"PA","k":"o","b":[-0.15,0],"l":[-0.23,-0.08],"h":[-0.07,0.08]},
{"p":"T","c":"PC","k":"s","b":[-0.41,-0.34,-0.29],"l":[-0.51,-0.44,-0.38],"h":[-0.31,-0.24,-0.2]},
{"p":"T","c":"PC","k":"o","b":[-0.2,-0.08,0.04],"l":[-0.28,-0.16,-0.04],"h":[-0.12,0,0.12]},
{"p":"T","c":"PC(O)","k":"s","b":[-0.36,-0.33],"l":[-0.46,-0.42],"h":[-0.26,-0.24]},
{"p":"T","c":"PC(O)","k":"o","b":[-0.18,-0.05],"l":[-0.26,-0.13],"h":[-0.1,0.03]},
{"p":"T","c":"PC(P)","k":"s","b":[-0.4,-0.37],"l":[-0.5,-0.46],"h":[-0.3,-0.28]},
{"p":"T","c":"PC(P)","k":"o","b":[-0.2,-0.05],"l":[-0.28,-0.13],"h":[-0.12,0.03]},
{"p":"T","c":"LPC","k":"g","b":[-0.26,0.16,0.26],"l":[-0.34,0.08,0.18],"h":[-0.18,0.24,0.34]},
{"p":"T","c":"LPC","k":"o","b":[-0.1,0.05],"l":[-0.18,-0.03],"h":[-0.02,0.13]},
{"p":"T","c":"LPC(O)","k":"g","b":[-0.19],"l":[-0.27],"h":[-0.11]},
{"p":"T","c":"LPC(P)","k":"o","b":[0.1],"l":[0.02],"h":[0.18]},
{"p":"T","c":"PE","k":"o","b":[-0.1,0,0.1],"l":[-0.18,-0.08,0.02],"h":[-0.02,0.08,0.18]},
{"p":"T","c":"PE(O)","k":"g","b":[-0.24],"l":[-0.32],"h":[-0.16]},
{"p":"T","c":"PE(O)","k":"o","b":[-0.1],"l":[-0.18],"h":[-0.02]},
{"p":"T","c":"PE(P)","k":"s","b":[-0.5,-0.44,-0.32],"l":[-0.6,-0.54,-0.42],"h":[-0.4,-0.34,-0.22]},
{"p":"T","c":"PE(P)","k":"o","b":[-0.2,-0.05],"l":[-0.28,-0.13],"h":[-0.12,0.03]},
{"p":"T","c":"LPE","k":"o","b":[-0.12,0,0.1],"l":[-0.2,-0.08,0.02],"h":[-0.04,0.08,0.18]},
{"p":"T","c":"LPE(P)","k":"o","b":[-0.08,0.05],"l":[-0.16,-0.03],"h":[0,0.13]},
{"p":"T","c":"PI","k":"s","b":[-0.44,-0.38,-0.34,-0.3,-0.26],"l":[-0.52,-0.46,-0.42,-0.38,-0.34],"h":[-0.36,-0.3,-0.26,-0.22,-0.18]},
{"p":"T","c":"PI","k":"o","b":[-0.15,-0.05],"l":[-0.23,-0.13],"h":[-0.07,0.03]},
{"p":"T","c":"PIP1","k":"o","b":[0],"l":[-0.06],"h":[0.06]},
{"p":"T","c":"LPI","k":"o","b":[-0.1,0,0.12,0.16],"l":[-0.18,-0.08,0.04,0.08],"h":[-0.02,0.08,0.2,0.24]},
{"p":"T","c":"PS","k":"o","b":[-0.05,0],"l":[-0.13,-0.08],"h":[0.03,0.08]},
{"p":"T","c":"PG","k":"o","b":[-0.02,0.03],"l":[-0.1,-0.05],"h":[0.06,0.11]},
{"p":"T","c":"CE","k":"g","b":[-0.26,-0.22,-0.18],"l":[-0.34,-0.3,-0.26],"h":[-0.18,-0.14,-0.1]},
{"p":"T","c":"CE","k":"o","b":[-0.12,-0.03,0.06],"l":[-0.2,-0.11,-0.02],"h":[-0.04,0.05,0.14]},
{"p":"T","c":"COH","k":"o","b":[-0.1],"l":[-0.16],"h":[-0.04]},
{"p":"T","c":"DE","k":"o","b":[-0.14,-0.03,0.12],"l":[-0.22,-0.11,0.04],"h":[-0.06,0.05,0.2]},
{"p":"T","c":"deDE","k":"o","b":[0.02],"l":[-0.06],"h":[0.1]},
{"p":"T","c":"methyl-CE","k":"g","b":[-0.28,-0.24],"l":[-0.36,-0.32],"h":[-0.2,-0.16]},
{"p":"T","c":"methyl-CE","k":"o","b":[-0.08],"l":[-0.16],"h":[0]},
{"p":"T","c":"methyl-DE","k":"g","b":[-0.21,-0.19],"l":[-0.29,-0.27],"h":[-0.13,-0.11]},
{"p":"T","c":"dimethyl-CE","k":"s","b":[-0.32,-0.31,-0.3,-0.29],"l":[-0.41,-0.4,-0.39,-0.37],"h":[-0.23,-0.22,-0.21,-0.2]},
{"p":"T","c":"dimethyl-CE","k":"g","b":[-0.27],"l":[-0.35],"h":[-0.19]},
{"p":"T","c":"FFA","k":"g","b":[0.18],"l":[0.1],"h":[0.26]},
{"p":"T","c":"FFA","k":"o","b":[-0.15,-0.05,0.05],"l":[-0.23,-0.13,-0.03],"h":[-0.07,0.03,0.13]},
{"p":"T","c":"AC","k":"s","b":[-0.42],"l":[-0.51],"h":[-0.33]},
{"p":"T","c":"AC","k":"o","b":[-0.12,0,0.08],"l":[-0.2,-0.08,0],"h":[-0.04,0.08,0.16]},
{"p":"T","c":"AC-OH","k":"o","b":[-0.1,0],"l":[-0.18,-0.08],"h":[-0.02,0.08]},
{"p":"T","c":"BA","k":"g","b":[0.18],"l":[0.1],"h":[0.26]},
{"p":"T","c":"BA","k":"o","b":[-0.05],"l":[-0.13],"h":[0.03]},
{"p":"T","c":"DG","k":"o","b":[-0.1,0,0.08],"l":[-0.18,-0.08,0],"h":[-0.02,0.08,0.16]},
{"p":"T","c":"TG [NL]","k":"g","b":[0.19,0.2],"l":[0.11,0.12],"h":[0.27,0.28]},
{"p":"T","c":"TG [NL]","k":"o","b":[-0.12,-0.02,0.06],"l":[-0.2,-0.1,-0.02],"h":[-0.04,0.06,0.14]},
{"p":"T","c":"TG(O) [NL]","k":"g","b":[-0.2,-0.21],"l":[-0.28,-0.3],"h":[-0.12,-0.13]},
{"p":"T","c":"TG(O) [NL]","k":"o","b":[-0.1,0],"l":[-0.18,-0.08],"h":[-0.02,0.08]},
{"p":"T","c":"Ubiquinone","k":"o","b":[-0.08],"l":[-0.14],"h":[-0.02]},
{"p":"T","c":"OxSpecies","k":"g","b":[-0.19,-0.18,0.27],"l":[-0.27,-0.26,0.19],"h":[-0.11,-0.1,0.35]},
{"p":"T","c":"OxSpecies","k":"o","b":[-0.1,0],"l":[-0.18,-0.08],"h":[-0.02,0.08]},

{"p":"B","c":"Sph","k":"g","b":[0.18],"l":[0.14],"h":[0.22]},
{"p":"B","c":"S1P","k":"s","b":[0.27],"l":[0.22],"h":[0.32]},
{"p":"B","c":"S1P","k":"g","b":[0.19],"l":[0.15],"h":[0.23]},
{"p":"B","c":"S1P","k":"o","b":[0.03],"l":[-0.02],"h":[0.08]},
{"p":"B","c":"dhCer","k":"s","b":[0.21],"l":[0.17],"h":[0.25]},
{"p":"B","c":"dhCer","k":"g","b":[0.12],"l":[0.08],"h":[0.16]},
{"p":"B","c":"dhCer","k":"o","b":[0,0.08],"l":[-0.05,0.03],"h":[0.05,0.13]},
{"p":"B","c":"Cer(d)","k":"s","b":[0.19,0.23,0.25,0.27],"l":[0.14,0.18,0.2,0.22],"h":[0.24,0.28,0.3,0.32]},
{"p":"B","c":"Cer(d)","k":"g","b":[0.1,0.15],"l":[0.05,0.1],"h":[0.15,0.2]},
{"p":"B","c":"Cer(d)","k":"o","b":[-0.06],"l":[-0.11],"h":[-0.01]},
{"p":"B","c":"Cer(m)","k":"s","b":[0.2,0.25,0.29,0.33,0.35],"l":[0.15,0.2,0.24,0.28,0.3],"h":[0.25,0.3,0.34,0.38,0.4]},
{"p":"B","c":"Cer(m)","k":"o","b":[0,0.08],"l":[-0.05,0.03],"h":[0.05,0.13]},
{"p":"B","c":"C1P","k":"s","b":[-0.23],"l":[-0.28],"h":[-0.18]},
{"p":"B","c":"HexCer","k":"g","b":[0.11],"l":[0.07],"h":[0.15]},
{"p":"B","c":"HexCer","k":"o","b":[-0.1,0,0.05],"l":[-0.15,-0.05,0],"h":[-0.05,0.05,0.1]},
{"p":"B","c":"Hex2Cer","k":"s","b":[-0.25,0.2],"l":[-0.3,0.15],"h":[-0.2,0.25]},
{"p":"B","c":"Hex2Cer","k":"g","b":[0.13,0.17],"l":[0.09,0.13],"h":[0.17,0.21]},
{"p":"B","c":"Hex2Cer","k":"o","b":[-0.05,0.05],"l":[-0.1,0],"h":[0,0.1]},
{"p":"B","c":"Hex3Cer","k":"g","b":[-0.16],"l":[-0.21],"h":[-0.11]},
{"p":"B","c":"Hex3Cer","k":"o","b":[-0.08,0.02],"l":[-0.13,-0.03],"h":[-0.03,0.07]},
{"p":"B","c":"GM3","k":"g","b":[-0.19,-0.14,-0.1],"l":[-0.24,-0.19,-0.15],"h":[-0.14,-0.09,-0.05]},
{"p":"B","c":"GM1","k":"o","b":[-0.05,0],"l":[-0.1,-0.05],"h":[0,0.05]},
{"p":"B","c":"SHexCer","k":"g","b":[-0.18,-0.15],"l":[-0.23,-0.2],"h":[-0.13,-0.1]},
{"p":"B","c":"SHexCer","k":"o","b":[-0.05,0.03],"l":[-0.1,-0.02],"h":[0,0.08]},
{"p":"B","c":"SM","k":"s","b":[0.2,0.24,0.27,0.3,0.35,0.44],"l":[0.15,0.19,0.22,0.25,0.3,0.39],"h":[0.25,0.29,0.32,0.35,0.4,0.49]},
{"p":"B","c":"SM","k":"o","b":[-0.05,0.05,0.12],"l":[-0.1,0,0.07],"h":[0,0.1,0.17]},
{"p":"B","c":"PA","k":"o","b":[-0.08,0,0.08],"l":[-0.13,-0.05,0.03],"h":[-0.03,0.05,0.13]},
{"p":"B","c":"PC","k":"s","b":[-0.24,-0.2,0.17,0.22,0.25,0.29,0.37],"l":[-0.29,-0.25,0.12,0.17,0.2,0.24,0.32],"h":[-0.19,-0.15,0.22,0.27,0.3,0.34,0.42]},
{"p":"B","c":"PC","k":"g","b":[-0.12,-0.1],"l":[-0.17,-0.15],"h":[-0.07,-0.05]},
{"p":"B","c":"PC(O)","k":"g","b":[-0.12,-0.1],"l":[-0.17,-0.15],"h":[-0.07,-0.05]},
{"p":"B","c":"PC(O)","k":"o","b":[0,0.1],"l":[-0.05,0.05],"h":[0.05,0.15]},
{"p":"B","c":"PC(P)","k":"g","b":[-0.19,-0.11],"l":[-0.24,-0.16],"h":[-0.14,-0.06]},
{"p":"B","c":"PC(P)","k":"o","b":[0,0.1],"l":[-0.05,0.05],"h":[0.05,0.15]},
{"p":"B","c":"LPC","k":"s","b":[0.24],"l":[0.19],"h":[0.29]},
{"p":"B","c":"LPC","k":"g","b":[-0.17,-0.12,-0.1],"l":[-0.22,-0.17,-0.15],"h":[-0.12,-0.07,-0.05]},
{"p":"B","c":"LPC","k":"o","b":[0.05],"l":[0],"h":[0.1]},
{"p":"B","c":"LPC(O)","k":"g","b":[-0.18,-0.13],"l":[-0.23,-0.18],"h":[-0.13,-0.08]},
{"p":"B","c":"LPC(O)","k":"o","b":[0.08],"l":[0.03],"h":[0.13]},
{"p":"B","c":"LPC(P)","k":"g","b":[-0.17],"l":[-0.22],"h":[-0.12]},
{"p":"B","c":"LPC(P)","k":"o","b":[-0.05,0.08],"l":[-0.1,0.03],"h":[0,0.13]},
{"p":"B","c":"PE","k":"s","b":[0.18,0.21,0.25],"l":[0.13,0.16,0.2],"h":[0.23,0.26,0.3]},
{"p":"B","c":"PE","k":"g","b":[0.1,0.14],"l":[0.05,0.09],"h":[0.15,0.19]},
{"p":"B","c":"PE(O)","k":"g","b":[-0.16,-0.11],"l":[-0.21,-0.16],"h":[-0.11,-0.06]},
{"p":"B","c":"PE(O)","k":"o","b":[0.05],"l":[0],"h":[0.1]},
{"p":"B","c":"PE(P)","k":"s","b":[-0.2],"l":[-0.25],"h":[-0.15]},
{"p":"B","c":"PE(P)","k":"g","b":[-0.13,-0.1,0.12],"l":[-0.18,-0.15,0.07],"h":[-0.08,-0.05,0.17]},
{"p":"B","c":"LPE","k":"o","b":[-0.08,0.02,0.1],"l":[-0.13,-0.03,0.05],"h":[-0.03,0.07,0.15]},
{"p":"B","c":"LPE(P)","k":"o","b":[-0.07,0.03,0.09],"l":[-0.12,-0.02,0.04],"h":[-0.02,0.08,0.14]},
{"p":"B","c":"PI","k":"s","b":[-0.25,0.23,0.28],"l":[-0.3,0.18,0.23],"h":[-0.2,0.28,0.33]},
{"p":"B","c":"PI","k":"g","b":[-0.19,0.13,0.15],"l":[-0.24,0.08,0.1],"h":[-0.14,0.18,0.2]},
{"p":"B","c":"PI","k":"o","b":[-0.07],"l":[-0.12],"h":[-0.02]},
{"p":"B","c":"PIP1","k":"o","b":[0.06],"l":[0.02],"h":[0.1]},
{"p":"B","c":"LPI","k":"s","b":[0.23,0.22,0.28],"l":[0.18,0.17,0.23],"h":[0.28,0.27,0.33]},
{"p":"B","c":"LPI","k":"o","b":[0.02,0.09],"l":[-0.03,0.04],"h":[0.07,0.14]},
{"p":"B","c":"PS","k":"g","b":[0.12,0.15],"l":[0.08,0.11],"h":[0.16,0.19]},
{"p":"B","c":"PG","k":"s","b":[0.22],"l":[0.18],"h":[0.26]},
{"p":"B","c":"PG","k":"g","b":[0.15],"l":[0.11],"h":[0.19]},
{"p":"B","c":"PG","k":"o","b":[0.06],"l":[0.02],"h":[0.1]},
{"p":"B","c":"CE","k":"s","b":[0.26],"l":[0.2],"h":[0.31]},
{"p":"B","c":"CE","k":"g","b":[0.12,0.15],"l":[0.08,0.11],"h":[0.16,0.19]},
{"p":"B","c":"CE","k":"o","b":[-0.06,0.03],"l":[-0.11,-0.02],"h":[-0.01,0.08]},
{"p":"B","c":"COH","k":"s","b":[0.22],"l":[0.16],"h":[0.27]},
{"p":"B","c":"DE","k":"s","b":[0.21,0.23],"l":[0.16,0.18],"h":[0.26,0.28]},
{"p":"B","c":"DE","k":"g","b":[0.14],"l":[0.1],"h":[0.18]},
{"p":"B","c":"DE","k":"o","b":[0.03],"l":[-0.02],"h":[0.08]},
{"p":"B","c":"deDE","k":"g","b":[0.13],"l":[0.09],"h":[0.17]},
{"p":"B","c":"methyl-CE","k":"s","b":[-0.27],"l":[-0.32],"h":[-0.22]},
{"p":"B","c":"methyl-CE","k":"g","b":[-0.19,-0.14],"l":[-0.24,-0.19],"h":[-0.14,-0.09]},
{"p":"B","c":"methyl-CE","k":"o","b":[-0.05],"l":[-0.09],"h":[-0.01]},
{"p":"B","c":"methyl-DE","k":"s","b":[-0.28,-0.21],"l":[-0.33,-0.26],"h":[-0.23,-0.16]},
{"p":"B","c":"dimethyl-CE","k":"s","b":[-0.24,-0.22,-0.2],"l":[-0.29,-0.27,-0.25],"h":[-0.19,-0.17,-0.15]},
{"p":"B","c":"FFA","k":"g","b":[0.14],"l":[0.1],"h":[0.18]},
{"p":"B","c":"FFA","k":"o","b":[-0.02,0.05,0.1],"l":[-0.07,0,0.05],"h":[0.03,0.1,0.15]},
{"p":"B","c":"AC","k":"g","b":[-0.19,-0.14,-0.12],"l":[-0.24,-0.19,-0.17],"h":[-0.14,-0.09,-0.07]},
{"p":"B","c":"AC","k":"o","b":[-0.04,0.05],"l":[-0.09,0],"h":[0.01,0.1]},
{"p":"B","c":"AC-OH","k":"o","b":[-0.06,0],"l":[-0.1,-0.04],"h":[-0.02,0.04]},
{"p":"B","c":"BA","k":"g","b":[0.12],"l":[0.08],"h":[0.16]},
{"p":"B","c":"BA","k":"o","b":[0.04],"l":[0],"h":[0.08]},
{"p":"B","c":"DG","k":"s","b":[0.18,0.23,0.26,0.29,0.32],"l":[0.13,0.18,0.21,0.24,0.27],"h":[0.23,0.28,0.31,0.34,0.37]},
{"p":"B","c":"DG","k":"g","b":[0.15],"l":[0.11],"h":[0.19]},
{"p":"B","c":"DG","k":"o","b":[-0.04],"l":[-0.08],"h":[0]},
{"p":"B","c":"TG [NL]","k":"s","b":[0.17,0.22,0.27,0.32,0.37,0.4],"l":[0.12,0.17,0.22,0.27,0.32,0.35],"h":[0.22,0.27,0.32,0.37,0.42,0.45]},
{"p":"B","c":"TG [NL]","k":"g","b":[0.1,0.14],"l":[0.05,0.09],"h":[0.15,0.19]},
{"p":"B","c":"TG [NL]","k":"o","b":[0.06],"l":[0.02],"h":[0.1]},
{"p":"B","c":"TG(O) [NL]","k":"s","b":[0.2],"l":[0.15],"h":[0.25]},
{"p":"B","c":"TG(O) [NL]","k":"g","b":[0.1,0.13,0.15],"l":[0.05,0.08,0.1],"h":[0.15,0.18,0.2]},
{"p":"B","c":"TG(O) [NL]","k":"o","b":[0.05],"l":[0],"h":[0.1]},
{"p":"B","c":"Ubiquinone","k":"s","b":[0.27],"l":[0.22],"h":[0.32]},
{"p":"B","c":"OxSpecies","k":"s","b":[0.27],"l":[0.22],"h":[0.32]},
{"p":"B","c":"OxSpecies","k":"o","b":[-0.1,-0.05,0,0.09],"l":[-0.16,-0.1,-0.05,0.04],"h":[-0.04,0,0.05,0.14]}
],
"lab": [
{"p":"A","t":"PC(P-16:0/18:2)","x":0.66,"c":"LPC"},
{"p":"Q","t":"PC(P-36:2) (b)","x":1.93,"c":"PC(P)"},
{"p":"Q","t":"LPC(O-22:0)","x":4.26,"c":"LPC"},
{"p":"Q","t":"CE(15:0)","x":3.65,"c":"PG"},
{"p":"S","t":"PC(O-16:0/22:6)","x":-1.86,"c":"PC"},
{"p":"S","t":"PC(P-16:0/22:6)","x":-1.48,"c":"LPC"},
{"p":"S","t":"PE(P-20:1/22:6)","x":-1.46,"c":"PE(O)"},
{"p":"S","t":"PE(P-19:0/20:4) (b)","x":-1.81,"c":"LPE"},
{"p":"S","t":"PI(39:6)","x":-1.61,"c":"PIP1"},
{"p":"S","t":"dimethyl-CE(22:6)","x":-1.66,"c":"FFA"},
{"p":"G","t":"dhCer(d18:0/24:0)","x":-1.36,"c":"S1P"},
{"p":"G","t":"Cer(d18:1/26:0)","x":-1.37,"c":"Cer(d)"},
{"p":"G","t":"Cer(m18:1/22:0)","x":0.5,"c":"Cer(d)"},
{"p":"G","t":"Cer(m18:0/24:1)","x":1.55,"c":"Cer(d)"},
{"p":"G","t":"Cer(m18:0/22:0)","x":-0.28,"c":"Cer(m)"},
{"p":"G","t":"Cer(m18:1/24:1)","x":1.51,"c":"Cer(m)"},
{"p":"G","t":"HexCer(d18:1/16:0)","x":-1.43,"c":"C1P"},
{"p":"G","t":"HexCer(d18:2/24:0)","x":1.0,"c":"C1P"},
{"p":"G","t":"Hex2Cer(d18:1/18:0)","x":-1.41,"c":"HexCer"},
{"p":"G","t":"Cer1P(d18:1/16:0)","x":0.23,"c":"HexCer"},
{"p":"G","t":"Hex3Cer(d18:1/18:0)","x":-0.5,"c":"Hex2Cer"},
{"p":"G","t":"Hex2Cer(d18:2/16:0)","x":1.33,"c":"Hex3Cer"},
{"p":"G","t":"GM3(d18:1/16:0)","x":-1.34,"c":"GM1"},
{"p":"G","t":"SM(41:0)","x":-1.7,"c":"SHexCer"},
{"p":"G","t":"SM(43:2) (c)","x":-0.86,"c":"SHexCer"},
{"p":"G","t":"SM(d18:0/22:0)","x":-1.58,"c":"PA"},
{"p":"G","t":"SM(34:3)","x":0.64,"c":"SHexCer"},
{"p":"G","t":"SM(42:4)","x":1.37,"c":"SHexCer"},
{"p":"G","t":"SM(d18:2/16:0)","x":1.55,"c":"PA"},
{"p":"G","t":"PC(42:5) (a)","x":-0.53,"c":"PA"},
{"p":"G","t":"PC(42:6) (b)","x":-1.63,"c":"PC"},
{"p":"G","t":"PC(P-18:0/22:5)","x":-0.82,"c":"PC(O)"},
{"p":"G","t":"PC(P-16:0/16:1)","x":1.22,"c":"PC(O)"},
{"p":"G","t":"PC(O-16:0/20:3)","x":0.16,"c":"PC(P)"},
{"p":"G","t":"PC(P-20:0/20:4)","x":-1.52,"c":"LPC"},
{"p":"G","t":"LPC(26:0) [sn1]","x":-0.57,"c":"LPC(O)"},
{"p":"G","t":"LPC(20:4) [sn2]","x":0.67,"c":"LPC(O)"},
{"p":"G","t":"PE(18:1_18:1)","x":-0.68,"c":"LPC(P)"},
{"p":"G","t":"PE(18:1_18:2)","x":-0.42,"c":"PE(O)"},
{"p":"G","t":"PE(P-20:0/18:2)","x":-1.59,"c":"PE(O)"},
{"p":"G","t":"LPE(P-20:0)","x":-0.75,"c":"LPE"},
{"p":"G","t":"LPE[22:6] [sn2]","x":0.89,"c":"LPE(P)"},
{"p":"G","t":"PI(38:5) (a)","x":-1.23,"c":"LPE(P)"},
{"p":"G","t":"PI(16:0_20:3) (b)","x":0.01,"c":"PI"},
{"p":"G","t":"PI(38:6)","x":-1.0,"c":"PIP1"},
{"p":"G","t":"CE(20:3)","x":0.85,"c":"PG"},
{"p":"G","t":"deDE(18:2)","x":0.58,"c":"DE"},
{"p":"G","t":"dimethyl-CE(18:2)","x":-0.68,"c":"FFA"},
{"p":"G","t":"AC(24:0)","x":-1.77,"c":"FFA"},
{"p":"G","t":"FA(22:6)","x":0.6,"c":"AC"},
{"p":"G","t":"TG(50:2) [NL-16:1]","x":0.49,"c":"DG"},
{"p":"G","t":"TG(50:3) [NL-16:1]","x":1.44,"c":"TG [NL]"},
{"p":"G","t":"TG(48:2) [NL-16:1]","x":-0.06,"c":"TG [NL]"},
{"p":"G","t":"TG(48:3) [NL-16:1]","x":-0.19,"c":"TG(O) [NL]"},
{"p":"G","t":"TG(52:4) [NL-16:1]","x":1.26,"c":"TG(O) [NL]"},
{"p":"G","t":"PC(36:4) [+OH]","x":1.55,"c":"Ubiquinone"},
{"p":"G","t":"PC(38:6) [+OH]","x":0.53,"c":"OxSpecies"},
{"p":"T","t":"dhCer(d18:0/24:0)","x":-0.36,"c":"S1P"},
{"p":"T","t":"SM(d18:1/23:0)/SM(d17:1/24:0)","x":-0.13,"c":"GM1"},
{"p":"T","t":"SM(d18:0/22:0)","x":-0.6,"c":"SHexCer"},
{"p":"T","t":"SM(d18:0/16:0)","x":-0.16,"c":"SHexCer"},
{"p":"T","t":"SM(44:1)","x":-0.45,"c":"PA"},
{"p":"T","t":"SM(d18:1/22:0)/SM(d16:1/24:0)","x":-0.01,"c":"PA"},
{"p":"T","t":"PC(O-42:7)","x":-0.31,"c":"PC"},
{"p":"T","t":"PC(P-18:0/22:6)","x":-0.57,"c":"PC(O)"},
{"p":"T","t":"PC(P-20:0/20:4)","x":-0.34,"c":"LPC"},
{"p":"T","t":"PE(P-20:0/18:2)","x":-0.54,"c":"LPE"},
{"p":"T","t":"PE(P-18:0/22:6)","x":-0.22,"c":"LPE"},
{"p":"T","t":"PI(18:1_18:2)","x":-0.32,"c":"LPE(P)"},
{"p":"T","t":"PI(18:0_22:6)","x":-0.6,"c":"PI"},
{"p":"T","t":"PI(16:0_20:3) (b)","x":0.01,"c":"PI"},
{"p":"T","t":"PI(38:6)","x":-0.5,"c":"PIP1"},
{"p":"T","t":"PI(38:5) (a)","x":-0.28,"c":"PIP1"},
{"p":"T","t":"AC(24:0)","x":-0.4,"c":"FFA"},
{"p":"B","t":"S1P(d18:2)","x":0.25,"c":"dhCer"},
{"p":"B","t":"Cer(m18:0/20:0)","x":0.33,"c":"Cer(d)"},
{"p":"B","t":"Hex2Cer(d18:1/18:0)","x":-0.09,"c":"Hex2Cer"},
{"p":"B","t":"SM(d18:0/22:0)","x":0.15,"c":"GM1"},
{"p":"B","t":"SM(d18:2/20:0)","x":0.41,"c":"GM1"},
{"p":"B","t":"SM(d18:1/20:0)/SM(d16:1/22:0)","x":0.06,"c":"SHexCer"},
{"p":"B","t":"SM(34:3)","x":0.35,"c":"SHexCer"},
{"p":"B","t":"SM(d18:2/18:0)","x":0.1,"c":"SM"},
{"p":"B","t":"SM(d18:2/14:0)","x":0.44,"c":"PA"},
{"p":"B","t":"PC(34:5)","x":0.04,"c":"PA"},
{"p":"B","t":"PC(16:1_20:4)","x":0.23,"c":"PA"},
{"p":"B","t":"PC(42:6) (b)","x":-0.21,"c":"PC(O)"},
{"p":"B","t":"PC(14:0_20:4)","x":0.08,"c":"PC(O)"},
{"p":"B","t":"PC(18:0_20:3)","x":0.41,"c":"PC(O)"},
{"p":"B","t":"PC(16:0_20:3) (a)","x":0.15,"c":"PC(P)"},
{"p":"B","t":"PE(16:0_16:1)","x":0.22,"c":"LPC(P)"},
{"p":"B","t":"PE(P-20:0/22:6)","x":-0.21,"c":"LPE"},
{"p":"B","t":"PI(37:6)","x":-0.24,"c":"LPE(P)"},
{"p":"B","t":"CE(20:3)","x":0.24,"c":"PG"},
{"p":"B","t":"CE(16:1)","x":0.29,"c":"COH"},
{"p":"B","t":"dimethyl-CE(18:1)","x":-0.23,"c":"FFA"}
]
},
"resolve": {"scale": {"color": "independent", "x": "independent", "y": "independent"}},
"spacing": 6,
"vconcat": [
{"hconcat": [
 {"spacing": 0, "resolve": {"scale": {"color": "independent"}}, "vconcat": [
  {"width": 193, "height": 14, "data": {"values": [{"t": "ASD"}]}, "mark": {"type": "text", "fontSize": 8, "color": "#1a1a1a"}, "encoding": {"text": {"field": "t"}}, "view": {"fill": "#d9d9d9", "stroke": "#333333", "strokeWidth": 0.8}},
  {"width": 193, "height": 478, "layer": [
   {"data": {"name": "d"},
    "transform": [{"filter": "datum.p === 'A'"}, {"flatten": ["b", "l", "h"]}, {"window": [{"op": "row_number", "as": "s"}], "groupby": ["c"]}],
    "encoding": {
     "y": {"field": "c", "type": "nominal", "sort": null, "scale": {"domain": ["Sph","S1P","dhCer","Cer(d)","Cer(m)","C1P","HexCer","Hex2Cer","Hex3Cer","GM3","GM1","SHexCer","SM","PA","PC","PC(O)","PC(P)","LPC","LPC(O)","LPC(P)","PE","PE(O)","PE(P)","LPE","LPE(P)","PI","PIP1","LPI","PS","PG","CE","COH","DE","deDE","methyl-CE","methyl-DE","dimethyl-CE","FFA","AC","AC-OH","BA","DG","TG [NL]","TG(O) [NL]","Ubiquinone","OxSpecies"], "paddingInner": 0, "paddingOuter": 0.1}, "axis": {"title": "Lipid class"}},
     "yOffset": {"field": "s", "type": "nominal", "scale": {"domain": [8,6,4,2,1,3,5,7,9], "paddingInner": 0, "paddingOuter": 0}},
     "x": {"field": "b", "type": "quantitative", "scale": {"domain": [0.542, 1.407], "nice": false, "zero": false}, "axis": {"title": "OR", "values": [0.6,0.7,0.8,0.9,1.0,1.1,1.2,1.3,1.4], "labelExpr": "abs(datum.value*5-round(datum.value*5))>0.01 ? '' : format(datum.value,'.1f')", "gridWidth": {"condition": {"test": "abs(datum.value*5-round(datum.value*5))>0.01", "value": 0.5}, "value": 0.9}, "tickOpacity": {"condition": {"test": "abs(datum.value*5-round(datum.value*5))>0.01", "value": 0}, "value": 1}}}
    },
    "layer": [
     {"transform": [{"filter": "datum.k === 'o'"}], "mark": {"type": "rule", "color": "#e4e4e4", "strokeWidth": 1.6}, "encoding": {"x": {"field": "l", "type": "quantitative", "title": "OR"}, "x2": {"field": "h"}}},
     {"transform": [{"filter": "datum.k === 'o'"}], "mark": {"type": "point", "filled": false, "size": 32, "color": "#d4d4d4", "strokeWidth": 1, "opacity": 1}},
     {"transform": [{"filter": "datum.k === 'g'"}], "mark": {"type": "rule", "color": "#c8c8c8", "strokeWidth": 1.2}, "encoding": {"x": {"field": "l", "type": "quantitative", "title": "OR"}, "x2": {"field": "h"}}},
     {"transform": [{"filter": "datum.k === 'g'"}], "mark": {"type": "circle", "size": 32, "color": "#c0c0c0", "opacity": 1}},
     {"transform": [{"filter": "datum.k === 's'"}], "mark": {"type": "rule", "strokeWidth": 1.2}, "encoding": {"x": {"field": "l", "type": "quantitative", "title": "OR"}, "x2": {"field": "h"}, "color": {"field": "c", "type": "nominal", "scale": {"domain": ["PC(O)","PC(P)","PE(P)"], "range": ["#F8766D","#00BA38","#619CFF"]}, "legend": null}}},
     {"transform": [{"filter": "datum.k === 's'"}], "mark": {"type": "circle", "size": 40, "opacity": 1}, "encoding": {"color": {"field": "c", "type": "nominal", "scale": {"domain": ["PC(O)","PC(P)","PE(P)"], "range": ["#F8766D","#00BA38","#619CFF"]}, "legend": null}}}
    ]},
   {"data": {"values": [{"v": 1}]}, "mark": {"type": "rule", "color": "#3f4f86", "strokeDash": [1.5, 2], "strokeWidth": 0.9}, "encoding": {"x": {"field": "v", "type": "quantitative", "title": "OR"}}},
   {"data": {"name": "lab"}, "transform": [{"filter": "datum.p === 'A'"}], "mark": {"type": "text", "fontSize": 6, "color": "#1a1a1a"}, "encoding": {"x": {"field": "x", "type": "quantitative", "title": "OR"}, "y": {"field": "c", "type": "nominal", "sort": null}, "text": {"field": "t"}}}
  ]}
 ]},
 {"spacing": 0, "resolve": {"scale": {"color": "independent"}}, "vconcat": [
  {"width": 193, "height": 14, "data": {"values": [{"t": "IQ_DQ"}]}, "mark": {"type": "text", "fontSize": 8, "color": "#1a1a1a"}, "encoding": {"text": {"field": "t"}}, "view": {"fill": "#d9d9d9", "stroke": "#333333", "strokeWidth": 0.8}},
  {"width": 193, "height": 478, "layer": [
   {"data": {"name": "d"},
    "transform": [{"filter": "datum.p === 'Q'"}, {"flatten": ["b", "l", "h"]}, {"window": [{"op": "row_number", "as": "s"}], "groupby": ["c"]}],
    "encoding": {
     "y": {"field": "c", "type": "nominal", "sort": null, "scale": {"domain": ["Sph","S1P","dhCer","Cer(d)","Cer(m)","C1P","HexCer","Hex2Cer","Hex3Cer","GM3","GM1","SHexCer","SM","PA","PC","PC(O)","PC(P)","LPC","LPC(O)","LPC(P)","PE","PE(O)","PE(P)","LPE","LPE(P)","PI","PIP1","LPI","PS","PG","CE","COH","DE","deDE","methyl-CE","methyl-DE","dimethyl-CE","FFA","AC","AC-OH","BA","DG","TG [NL]","TG(O) [NL]","Ubiquinone","OxSpecies"], "paddingInner": 0, "paddingOuter": 0.1}, "axis": {"title": null}},
     "yOffset": {"field": "s", "type": "nominal", "scale": {"domain": [8,6,4,2,1,3,5,7,9], "paddingInner": 0, "paddingOuter": 0}},
     "x": {"field": "b", "type": "quantitative", "scale": {"domain": [-4.4, 5.36], "nice": false, "zero": false}, "axis": {"title": "b", "values": [-3.75,-2.5,-1.25,0,1.25,2.5,3.75,5], "labelExpr": "abs(datum.value/2.5-round(datum.value/2.5))>0.01 ? '' : format(datum.value,'.1f')", "gridWidth": {"condition": {"test": "abs(datum.value/2.5-round(datum.value/2.5))>0.01", "value": 0.5}, "value": 0.9}, "tickOpacity": {"condition": {"test": "abs(datum.value/2.5-round(datum.value/2.5))>0.01", "value": 0}, "value": 1}}}
    },
    "layer": [
     {"transform": [{"filter": "datum.k === 'o'"}], "mark": {"type": "rule", "color": "#e4e4e4", "strokeWidth": 1.6}, "encoding": {"x": {"field": "l", "type": "quantitative", "title": "b"}, "x2": {"field": "h"}}},
     {"transform": [{"filter": "datum.k === 'o'"}], "mark": {"type": "point", "filled": false, "size": 32, "color": "#d4d4d4", "strokeWidth": 1, "opacity": 1}},
     {"transform": [{"filter": "datum.k === 'g'"}], "mark": {"type": "rule", "color": "#c8c8c8", "strokeWidth": 1.2}, "encoding": {"x": {"field": "l", "type": "quantitative", "title": "b"}, "x2": {"field": "h"}}},
     {"transform": [{"filter": "datum.k === 'g'"}], "mark": {"type": "circle", "size": 32, "color": "#c0c0c0", "opacity": 1}},
     {"transform": [{"filter": "datum.k === 's'"}], "mark": {"type": "rule", "strokeWidth": 1.2}, "encoding": {"x": {"field": "l", "type": "quantitative", "title": "b"}, "x2": {"field": "h"}, "color": {"field": "c", "type": "nominal", "scale": {"domain": ["CE","LPC","LPC(O)","LPC(P)","PC(O)","PC(P)"], "range": ["#F8766D","#B79F00","#00BA38","#00BFC4","#619CFF","#F564E3"]}, "legend": null}}},
     {"transform": [{"filter": "datum.k === 's'"}], "mark": {"type": "circle", "size": 40, "opacity": 1}, "encoding": {"color": {"field": "c", "type": "nominal", "scale": {"domain": ["CE","LPC","LPC(O)","LPC(P)","PC(O)","PC(P)"], "range": ["#F8766D","#B79F00","#00BA38","#00BFC4","#619CFF","#F564E3"]}, "legend": null}}}
    ]},
   {"data": {"values": [{"v": 0}]}, "mark": {"type": "rule", "color": "#3f4f86", "strokeDash": [1.5, 2], "strokeWidth": 0.9}, "encoding": {"x": {"field": "v", "type": "quantitative", "title": "b"}}},
   {"data": {"name": "lab"}, "transform": [{"filter": "datum.p === 'Q'"}], "mark": {"type": "text", "fontSize": 6, "color": "#1a1a1a"}, "encoding": {"x": {"field": "x", "type": "quantitative", "title": "b"}, "y": {"field": "c", "type": "nominal", "sort": null}, "text": {"field": "t"}}}
  ]}
 ]},
 {"spacing": 0, "resolve": {"scale": {"color": "independent"}}, "vconcat": [
  {"width": 193, "height": 14, "data": {"values": [{"t": "sleep disturbances (CSHQ)"}]}, "mark": {"type": "text", "fontSize": 8, "color": "#1a1a1a"}, "encoding": {"text": {"field": "t"}}, "view": {"fill": "#d9d9d9", "stroke": "#333333", "strokeWidth": 0.8}},
  {"width": 193, "height": 478, "layer": [
   {"data": {"name": "d"},
    "transform": [{"filter": "datum.p === 'S'"}, {"flatten": ["b", "l", "h"]}, {"window": [{"op": "row_number", "as": "s"}], "groupby": ["c"]}],
    "encoding": {
     "y": {"field": "c", "type": "nominal", "sort": null, "scale": {"domain": ["Sph","S1P","dhCer","Cer(d)","Cer(m)","C1P","HexCer","Hex2Cer","Hex3Cer","GM3","GM1","SHexCer","SM","PA","PC","PC(O)","PC(P)","LPC","LPC(O)","LPC(P)","PE","PE(O)","PE(P)","LPE","LPE(P)","PI","PIP1","LPI","PS","PG","CE","COH","DE","deDE","methyl-CE","methyl-DE","dimethyl-CE","FFA","AC","AC-OH","BA","DG","TG [NL]","TG(O) [NL]","Ubiquinone","OxSpecies"], "paddingInner": 0, "paddingOuter": 0.1}, "axis": {"title": null}},
     "yOffset": {"field": "s", "type": "nominal", "scale": {"domain": [8,6,4,2,1,3,5,7,9], "paddingInner": 0, "paddingOuter": 0}},
     "x": {"field": "b", "type": "quantitative", "scale": {"domain": [-2.52, 1.75], "nice": false, "zero": false}, "axis": {"title": "b", "values": [-2.5,-2,-1.5,-1,-0.5,0,0.5,1,1.5], "labelExpr": "abs(datum.value-round(datum.value))>0.01 ? '' : format(datum.value,'d')", "gridWidth": {"condition": {"test": "abs(datum.value-round(datum.value))>0.01", "value": 0.5}, "value": 0.9}, "tickOpacity": {"condition": {"test": "abs(datum.value-round(datum.value))>0.01", "value": 0}, "value": 1}}}
    },
    "layer": [
     {"transform": [{"filter": "datum.k === 'o'"}], "mark": {"type": "rule", "color": "#e4e4e4", "strokeWidth": 1.6}, "encoding": {"x": {"field": "l", "type": "quantitative", "title": "b"}, "x2": {"field": "h"}}},
     {"transform": [{"filter": "datum.k === 'o'"}], "mark": {"type": "point", "filled": false, "size": 32, "color": "#d4d4d4", "strokeWidth": 1, "opacity": 1}},
     {"transform": [{"filter": "datum.k === 'g'"}], "mark": {"type": "rule", "color": "#c8c8c8", "strokeWidth": 1.2}, "encoding": {"x": {"field": "l", "type": "quantitative", "title": "b"}, "x2": {"field": "h"}}},
     {"transform": [{"filter": "datum.k === 'g'"}], "mark": {"type": "circle", "size": 32, "color": "#c0c0c0", "opacity": 1}},
     {"transform": [{"filter": "datum.k === 's'"}], "mark": {"type": "rule", "strokeWidth": 1.2}, "encoding": {"x": {"field": "l", "type": "quantitative", "title": "b"}, "x2": {"field": "h"}, "color": {"field": "c", "type": "nominal", "scale": {"domain": ["dimethyl-CE","FFA","PC","PC(O)","PC(P)","PE(P)","PI"], "range": ["#F8766D","#C49A00","#53B400","#00C094","#00B6EB","#A58AFF","#FB61D7"]}, "legend": null}}},
     {"transform": [{"filter": "datum.k === 's'"}], "mark": {"type": "circle", "size": 40, "opacity": 1}, "encoding": {"color": {"field": "c", "type": "nominal", "scale": {"domain": ["dimethyl-CE","FFA","PC","PC(O)","PC(P)","PE(P)","PI"], "range": ["#F8766D","#C49A00","#53B400","#00C094","#00B6EB","#A58AFF","#FB61D7"]}, "legend": null}}}
    ]},
   {"data": {"values": [{"v": 0}]}, "mark": {"type": "rule", "color": "#3f4f86", "strokeDash": [1.5, 2], "strokeWidth": 0.9}, "encoding": {"x": {"field": "v", "type": "quantitative", "title": "b"}}},
   {"data": {"name": "lab"}, "transform": [{"filter": "datum.p === 'S'"}], "mark": {"type": "text", "fontSize": 6, "color": "#1a1a1a"}, "encoding": {"x": {"field": "x", "type": "quantitative", "title": "b"}, "y": {"field": "c", "type": "nominal", "sort": null}, "text": {"field": "t"}}}
  ]}
 ]}
], "spacing": 19, "resolve": {"scale": {"color": "independent", "x": "independent", "y": "independent"}}},
{"hconcat": [
 {"spacing": 0, "resolve": {"scale": {"color": "independent"}}, "vconcat": [
  {"width": 193, "height": 14, "data": {"values": [{"t": "age"}]}, "mark": {"type": "text", "fontSize": 8, "color": "#1a1a1a"}, "encoding": {"text": {"field": "t"}}, "view": {"fill": "#d9d9d9", "stroke": "#333333", "strokeWidth": 0.8}},
  {"width": 193, "height": 478, "layer": [
   {"data": {"name": "d"},
    "transform": [{"filter": "datum.p === 'G'"}, {"flatten": ["b", "l", "h"]}, {"window": [{"op": "row_number", "as": "s"}], "groupby": ["c"]}],
    "encoding": {
     "y": {"field": "c", "type": "nominal", "sort": null, "scale": {"domain": ["Sph","S1P","dhCer","Cer(d)","Cer(m)","C1P","HexCer","Hex2Cer","Hex3Cer","GM3","GM1","SHexCer","SM","PA","PC","PC(O)","PC(P)","LPC","LPC(O)","LPC(P)","PE","PE(O)","PE(P)","LPE","LPE(P)","PI","PIP1","LPI","PS","PG","CE","COH","DE","deDE","methyl-CE","methyl-DE","dimethyl-CE","FFA","AC","AC-OH","BA","DG","TG [NL]","TG(O) [NL]","Ubiquinone","OxSpecies"], "paddingInner": 0, "paddingOuter": 0.1}, "axis": {"title": "Lipid class"}},
     "yOffset": {"field": "s", "type": "nominal", "scale": {"domain": [8,6,4,2,1,3,5,7,9], "paddingInner": 0, "paddingOuter": 0}},
     "x": {"field": "b", "type": "quantitative", "scale": {"domain": [-2.12, 2.1], "nice": false, "zero": false}, "axis": {"title": "b", "values": [-2,-1.5,-1,-0.5,0,0.5,1,1.5,2], "labelExpr": "abs(datum.value-round(datum.value))>0.01 ? '' : format(datum.value,'d')", "gridWidth": {"condition": {"test": "abs(datum.value-round(datum.value))>0.01", "value": 0.5}, "value": 0.9}, "tickOpacity": {"condition": {"test": "abs(datum.value-round(datum.value))>0.01", "value": 0}, "value": 1}}}
    },
    "layer": [
     {"transform": [{"filter": "datum.k === 'o'"}], "mark": {"type": "rule", "color": "#e4e4e4", "strokeWidth": 1.6}, "encoding": {"x": {"field": "l", "type": "quantitative", "title": "b"}, "x2": {"field": "h"}}},
     {"transform": [{"filter": "datum.k === 'o'"}], "mark": {"type": "point", "filled": false, "size": 32, "color": "#d4d4d4", "strokeWidth": 1, "opacity": 1}},
     {"transform": [{"filter": "datum.k === 'g'"}], "mark": {"type": "rule", "color": "#c8c8c8", "strokeWidth": 1.2}, "encoding": {"x": {"field": "l", "type": "quantitative", "title": "b"}, "x2": {"field": "h"}}},
     {"transform": [{"filter": "datum.k === 'g'"}], "mark": {"type": "circle", "size": 32, "color": "#c0c0c0", "opacity": 1}},
     {"transform": [{"filter": "datum.k === 's'"}], "mark": {"type": "rule", "strokeWidth": 1.2}, "encoding": {"x": {"field": "l", "type": "quantitative", "title": "b"}, "x2": {"field": "h"}, "color": {"field": "c", "type": "nominal", "scale": {"domain": ["AC","BA","CE","Cer(d)","Cer(m)","deDE","DG","dhCer","dimethyl-CE","FFA","GM3","Hex2Cer","Hex3Cer","HexCer","LPC","LPC(O)","LPC(P)","LPE","LPE(P)","OxSpecies","PC","PC(O)","PC(P)","PE","PE(P)","PI","S1P","SM","TG [NL]","TG(O) [NL]"], "range": ["#F8766D","#F07E4C","#E38900","#D89000","#C69900","#B79F00","#A3A500","#8BAB00","#6BB100","#39B600","#00BA38","#00BD5F","#00BF7D","#00C19A","#00C0B0","#00BFC4","#00BCD6","#00B8E5","#00B0F6","#35A2FF","#00A9FF","#8B93FF","#B186FF","#CE78FD","#E76BF3","#F564E3","#FC61D5","#FF62BC","#FE68A4","#FA7190"]}, "legend": null}}},
     {"transform": [{"filter": "datum.k === 's'"}], "mark": {"type": "circle", "size": 40, "opacity": 1}, "encoding": {"color": {"field": "c", "type": "nominal", "scale": {"domain": ["AC","BA","CE","Cer(d)","Cer(m)","deDE","DG","dhCer","dimethyl-CE","FFA","GM3","Hex2Cer","Hex3Cer","HexCer","LPC","LPC(O)","LPC(P)","LPE","LPE(P)","OxSpecies","PC","PC(O)","PC(P)","PE","PE(P)","PI","S1P","SM","TG [NL]","TG(O) [NL]"], "range": ["#F8766D","#F07E4C","#E38900","#D89000","#C69900","#B79F00","#A3A500","#8BAB00","#6BB100","#39B600","#00BA38","#00BD5F","#00BF7D","#00C19A","#00C0B0","#00BFC4","#00BCD6","#00B8E5","#00B0F6","#35A2FF","#00A9FF","#8B93FF","#B186FF","#CE78FD","#E76BF3","#F564E3","#FC61D5","#FF62BC","#FE68A4","#FA7190"]}, "legend": null}}}
    ]},
   {"data": {"values": [{"v": 0}]}, "mark": {"type": "rule", "color": "#3f4f86", "strokeDash": [1.5, 2], "strokeWidth": 0.9}, "encoding": {"x": {"field": "v", "type": "quantitative", "title": "b"}}},
   {"data": {"name": "lab"}, "transform": [{"filter": "datum.p === 'G'"}], "mark": {"type": "text", "fontSize": 6, "color": "#1a1a1a"}, "encoding": {"x": {"field": "x", "type": "quantitative", "title": "b"}, "y": {"field": "c", "type": "nominal", "sort": null}, "text": {"field": "t"}}}
  ]}
 ]},
 {"spacing": 0, "resolve": {"scale": {"color": "independent"}}, "vconcat": [
  {"width": 193, "height": 14, "data": {"values": [{"t": "Tanner (genital)"}]}, "mark": {"type": "text", "fontSize": 8, "color": "#1a1a1a"}, "encoding": {"text": {"field": "t"}}, "view": {"fill": "#d9d9d9", "stroke": "#333333", "strokeWidth": 0.8}},
  {"width": 193, "height": 478, "layer": [
   {"data": {"name": "d"},
    "transform": [{"filter": "datum.p === 'T'"}, {"flatten": ["b", "l", "h"]}, {"window": [{"op": "row_number", "as": "s"}], "groupby": ["c"]}],
    "encoding": {
     "y": {"field": "c", "type": "nominal", "sort": null, "scale": {"domain": ["Sph","S1P","dhCer","Cer(d)","Cer(m)","C1P","HexCer","Hex2Cer","Hex3Cer","GM3","GM1","SHexCer","SM","PA","PC","PC(O)","PC(P)","LPC","LPC(O)","LPC(P)","PE","PE(O)","PE(P)","LPE","LPE(P)","PI","PIP1","LPI","PS","PG","CE","COH","DE","deDE","methyl-CE","methyl-DE","dimethyl-CE","FFA","AC","AC-OH","BA","DG","TG [NL]","TG(O) [NL]","Ubiquinone","OxSpecies"], "paddingInner": 0, "paddingOuter": 0.1}, "axis": {"title": null}},
     "yOffset": {"field": "s", "type": "nominal", "scale": {"domain": [8,6,4,2,1,3,5,7,9], "paddingInner": 0, "paddingOuter": 0}},
     "x": {"field": "b", "type": "quantitative", "scale": {"domain": [-0.717, 0.457], "nice": false, "zero": false}, "axis": {"title": "b", "values": [-0.625,-0.5,-0.375,-0.25,-0.125,0,0.125,0.25,0.375], "labelExpr": "abs(datum.value*4-round(datum.value*4))>0.01 ? '' : format(datum.value,'.2f')", "gridWidth": {"condition": {"test": "abs(datum.value*4-round(datum.value*4))>0.01", "value": 0.5}, "value": 0.9}, "tickOpacity": {"condition": {"test": "abs(datum.value*4-round(datum.value*4))>0.01", "value": 0}, "value": 1}}}
    },
    "layer": [
     {"transform": [{"filter": "datum.k === 'o'"}], "mark": {"type": "rule", "color": "#e4e4e4", "strokeWidth": 1.6}, "encoding": {"x": {"field": "l", "type": "quantitative", "title": "b"}, "x2": {"field": "h"}}},
     {"transform": [{"filter": "datum.k === 'o'"}], "mark": {"type": "point", "filled": false, "size": 32, "color": "#d4d4d4", "strokeWidth": 1, "opacity": 1}},
     {"transform": [{"filter": "datum.k === 'g'"}], "mark": {"type": "rule", "color": "#c8c8c8", "strokeWidth": 1.2}, "encoding": {"x": {"field": "l", "type": "quantitative", "title": "b"}, "x2": {"field": "h"}}},
     {"transform": [{"filter": "datum.k === 'g'"}], "mark": {"type": "circle", "size": 32, "color": "#c0c0c0", "opacity": 1}},
     {"transform": [{"filter": "datum.k === 's'"}], "mark": {"type": "rule", "strokeWidth": 1.2}, "encoding": {"x": {"field": "l", "type": "quantitative", "title": "b"}, "x2": {"field": "h"}, "color": {"field": "c", "type": "nominal", "scale": {"domain": ["AC","dhCer","dimethyl-CE","Hex2Cer","PC","PC(O)","PC(P)","PE(P)","PI","SM"], "range": ["#F8766D","#D89000","#A3A500","#39B600","#00BF7D","#00BFC4","#00B0F6","#00A5FF","#A58AFF","#F564E3"]}, "legend": null}}},
     {"transform": [{"filter": "datum.k === 's'"}], "mark": {"type": "circle", "size": 40, "opacity": 1}, "encoding": {"color": {"field": "c", "type": "nominal", "scale": {"domain": ["AC","dhCer","dimethyl-CE","Hex2Cer","PC","PC(O)","PC(P)","PE(P)","PI","SM"], "range": ["#F8766D","#D89000","#A3A500","#39B600","#00BF7D","#00BFC4","#00B0F6","#00A5FF","#A58AFF","#F564E3"]}, "legend": null}}}
    ]},
   {"data": {"values": [{"v": 0}]}, "mark": {"type": "rule", "color": "#3f4f86", "strokeDash": [1.5, 2], "strokeWidth": 0.9}, "encoding": {"x": {"field": "v", "type": "quantitative", "title": "b"}}},
   {"data": {"name": "lab"}, "transform": [{"filter": "datum.p === 'T'"}], "mark": {"type": "text", "fontSize": 6, "color": "#1a1a1a"}, "encoding": {"x": {"field": "x", "type": "quantitative", "title": "b"}, "y": {"field": "c", "type": "nominal", "sort": null}, "text": {"field": "t"}}}
  ]}
 ]},
 {"spacing": 0, "resolve": {"scale": {"color": "independent"}}, "vconcat": [
  {"width": 193, "height": 14, "data": {"values": [{"t": "BMI (z-score)"}]}, "mark": {"type": "text", "fontSize": 8, "color": "#1a1a1a"}, "encoding": {"text": {"field": "t"}}, "view": {"fill": "#d9d9d9", "stroke": "#333333", "strokeWidth": 0.8}},
  {"width": 193, "height": 478, "layer": [
   {"data": {"name": "d"},
    "transform": [{"filter": "datum.p === 'B'"}, {"flatten": ["b", "l", "h"]}, {"window": [{"op": "row_number", "as": "s"}], "groupby": ["c"]}],
    "encoding": {
     "y": {"field": "c", "type": "nominal", "sort": null, "scale": {"domain": ["Sph","S1P","dhCer","Cer(d)","Cer(m)","C1P","HexCer","Hex2Cer","Hex3Cer","GM3","GM1","SHexCer","SM","PA","PC","PC(O)","PC(P)","LPC","LPC(O)","LPC(P)","PE","PE(O)","PE(P)","LPE","LPE(P)","PI","PIP1","LPI","PS","PG","CE","COH","DE","deDE","methyl-CE","methyl-DE","dimethyl-CE","FFA","AC","AC-OH","BA","DG","TG [NL]","TG(O) [NL]","Ubiquinone","OxSpecies"], "paddingInner": 0, "paddingOuter": 0.1}, "axis": {"title": null}},
     "yOffset": {"field": "s", "type": "nominal", "scale": {"domain": [8,6,4,2,1,3,5,7,9], "paddingInner": 0, "paddingOuter": 0}},
     "x": {"field": "b", "type": "quantitative", "scale": {"domain": [-0.38, 0.54], "nice": false, "zero": false}, "axis": {"title": "b", "values": [-0.3,-0.2,-0.1,0,0.1,0.2,0.3,0.4,0.5], "labelExpr": "abs(datum.value*5-round(datum.value*5))>0.01 ? '' : format(datum.value,'.1f')", "gridWidth": {"condition": {"test": "abs(datum.value*5-round(datum.value*5))>0.01", "value": 0.5}, "value": 0.9}, "tickOpacity": {"condition": {"test": "abs(datum.value*5-round(datum.value*5))>0.01", "value": 0}, "value": 1}}}
    },
    "layer": [
     {"transform": [{"filter": "datum.k === 'o'"}], "mark": {"type": "rule", "color": "#e4e4e4", "strokeWidth": 1.6}, "encoding": {"x": {"field": "l", "type": "quantitative", "title": "b"}, "x2": {"field": "h"}}},
     {"transform": [{"filter": "datum.k === 'o'"}], "mark": {"type": "point", "filled": false, "size": 32, "color": "#d4d4d4", "strokeWidth": 1, "opacity": 1}},
     {"transform": [{"filter": "datum.k === 'g'"}], "mark": {"type": "rule", "color": "#c8c8c8", "strokeWidth": 1.2}, "encoding": {"x": {"field": "l", "type": "quantitative", "title": "b"}, "x2": {"field": "h"}}},
     {"transform": [{"filter": "datum.k === 'g'"}], "mark": {"type": "circle", "size": 32, "color": "#c0c0c0", "opacity": 1}},
     {"transform": [{"filter": "datum.k === 's'"}], "mark": {"type": "rule", "strokeWidth": 1.2}, "encoding": {"x": {"field": "l", "type": "quantitative", "title": "b"}, "x2": {"field": "h"}, "color": {"field": "c", "type": "nominal", "scale": {"domain": ["C1P","CE","Cer(d)","Cer(m)","COH","DE","DG","dhCer","dimethyl-CE","Hex2Cer","LPC","LPI","methyl-CE","methyl-DE","OxSpecies","PC","PE","PE(P)","PG","PI","S1P","SM","TG [NL]","TG(O) [NL]","Ubiquinone"], "range": ["#F8766D","#EA8331","#DE8C00","#CD9600","#BB9D00","#A5A400","#87AA00","#66B200","#2BB600","#00BA46","#00BD78","#00C0A0","#00C0BA","#00BDD0","#00B7E6","#00AEFA","#3DA1FF","#7E96FF","#A58AFF","#C77CFF","#E26EF7","#F564E3","#FF61C9","#FF64B0","#FC6F8B"]}, "legend": null}}},
     {"transform": [{"filter": "datum.k === 's'"}], "mark": {"type": "circle", "size": 40, "opacity": 1}, "encoding": {"color": {"field": "c", "type": "nominal", "scale": {"domain": ["C1P","CE","Cer(d)","Cer(m)","COH","DE","DG","dhCer","dimethyl-CE","Hex2Cer","LPC","LPI","methyl-CE","methyl-DE","OxSpecies","PC","PE","PE(P)","PG","PI","S1P","SM","TG [NL]","TG(O) [NL]","Ubiquinone"], "range": ["#F8766D","#EA8331","#DE8C00","#CD9600","#BB9D00","#A5A400","#87AA00","#66B200","#2BB600","#00BA46","#00BD78","#00C0A0","#00C0BA","#00BDD0","#00B7E6","#00AEFA","#3DA1FF","#7E96FF","#A58AFF","#C77CFF","#E26EF7","#F564E3","#FF61C9","#FF64B0","#FC6F8B"]}, "legend": null}}}
    ]},
   {"data": {"values": [{"v": 0}]}, "mark": {"type": "rule", "color": "#3f4f86", "strokeDash": [1.5, 2], "strokeWidth": 0.9}, "encoding": {"x": {"field": "v", "type": "quantitative", "title": "b"}}},
   {"data": {"name": "lab"}, "transform": [{"filter": "datum.p === 'B'"}], "mark": {"type": "text", "fontSize": 6, "color": "#1a1a1a"}, "encoding": {"x": {"field": "x", "type": "quantitative", "title": "b"}, "y": {"field": "c", "type": "nominal", "sort": null}, "text": {"field": "t"}}}
  ]}
 ]}
], "spacing": 19, "resolve": {"scale": {"color": "independent", "x": "independent", "y": "independent"}}}
]
}
